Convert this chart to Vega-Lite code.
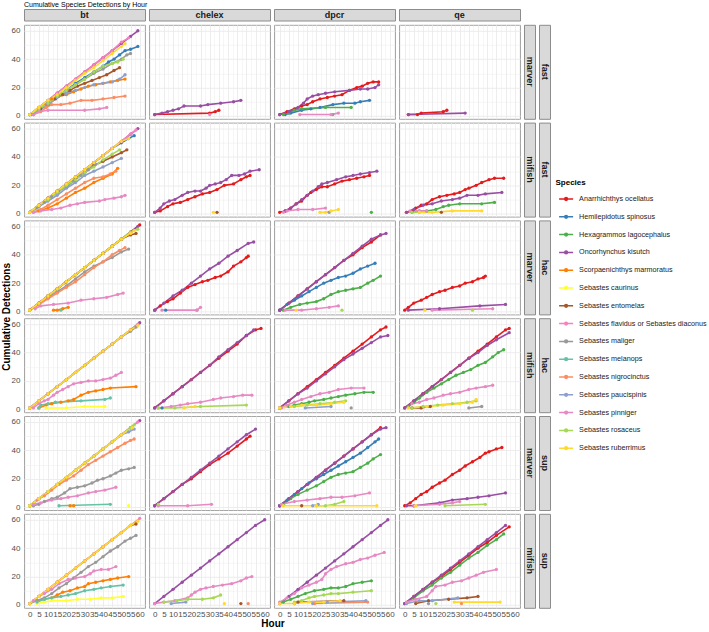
{
"$schema":"https://vega.github.io/schema/vega-lite/v6.json",
"padding":{"left":0,"top":0,"right":0,"bottom":0},
"title":{"text":"Cumulative Species Detections by Hour","anchor":"start","frame":"group","fontSize":7,"fontWeight":"normal","color":"#000000","offset":1},
"datasets":{
"sp":[{"k":1,"Species":"Anarrhichthys ocellatus"},{"k":2,"Species":"Hemilepidotus spinosus"},{"k":3,"Species":"Hexagrammos lagocephalus"},{"k":4,"Species":"Oncorhynchus kisutch"},{"k":5,"Species":"Scorpaenichthys marmoratus"},{"k":6,"Species":"Sebastes caurinus"},{"k":7,"Species":"Sebastes entomelas"},{"k":8,"Species":"Sebastes flavidus or Sebastes diaconus"},{"k":9,"Species":"Sebastes maliger"},{"k":10,"Species":"Sebastes melanops"},{"k":11,"Species":"Sebastes nigrocinctus"},{"k":12,"Species":"Sebastes paucispinis"},{"k":13,"Species":"Sebastes pinniger"},{"k":14,"Species":"Sebastes rosaceus"},{"k":15,"Species":"Sebastes ruberrimus"}],
"d":[
{"p":0,"k":2,"x":0,"y":1},{"p":0,"k":2,"x":5,"y":5},{"p":0,"k":2,"x":10,"y":9},{"p":0,"k":2,"x":15,"y":14},{"p":0,"k":2,"x":20,"y":18},{"p":0,"k":2,"x":25,"y":23},{"p":0,"k":2,"x":30,"y":27},{"p":0,"k":2,"x":35,"y":31},{"p":0,"k":2,"x":40,"y":35},{"p":0,"k":2,"x":43,"y":38},{"p":0,"k":2,"x":46,"y":40},{"p":0,"k":2,"x":49,"y":43},{"p":0,"k":2,"x":52,"y":46},{"p":0,"k":2,"x":55,"y":47},{"p":0,"k":2,"x":59,"y":49},
{"p":0,"k":4,"x":0,"y":1},{"p":0,"k":4,"x":5,"y":6},{"p":0,"k":4,"x":10,"y":11},{"p":0,"k":4,"x":15,"y":16},{"p":0,"k":4,"x":20,"y":21},{"p":0,"k":4,"x":25,"y":26},{"p":0,"k":4,"x":30,"y":31},{"p":0,"k":4,"x":35,"y":36},{"p":0,"k":4,"x":40,"y":41},{"p":0,"k":4,"x":45,"y":46},{"p":0,"k":4,"x":50,"y":51},{"p":0,"k":4,"x":55,"y":56},{"p":0,"k":4,"x":59,"y":60},
{"p":0,"k":5,"x":1,"y":1},{"p":0,"k":5,"x":5,"y":4},{"p":0,"k":5,"x":9,"y":8},{"p":0,"k":5,"x":12,"y":12},{"p":0,"k":5,"x":16,"y":14},{"p":0,"k":5,"x":20,"y":15},{"p":0,"k":5,"x":24,"y":17},{"p":0,"k":5,"x":28,"y":19},{"p":0,"k":5,"x":32,"y":21},{"p":0,"k":5,"x":36,"y":22},{"p":0,"k":5,"x":40,"y":23},{"p":0,"k":5,"x":44,"y":24},{"p":0,"k":5,"x":48,"y":25},{"p":0,"k":5,"x":52,"y":26},
{"p":0,"k":7,"x":2,"y":1},{"p":0,"k":7,"x":6,"y":5},{"p":0,"k":7,"x":10,"y":8},{"p":0,"k":7,"x":14,"y":12},{"p":0,"k":7,"x":18,"y":15},{"p":0,"k":7,"x":22,"y":18},{"p":0,"k":7,"x":26,"y":21},{"p":0,"k":7,"x":30,"y":23},{"p":0,"k":7,"x":34,"y":25},{"p":0,"k":7,"x":38,"y":27},{"p":0,"k":7,"x":42,"y":29},{"p":0,"k":7,"x":46,"y":32},{"p":0,"k":7,"x":49,"y":34},
{"p":0,"k":8,"x":0,"y":1},{"p":0,"k":8,"x":5,"y":6},{"p":0,"k":8,"x":10,"y":11},{"p":0,"k":8,"x":15,"y":16},{"p":0,"k":8,"x":20,"y":21},{"p":0,"k":8,"x":25,"y":26},{"p":0,"k":8,"x":30,"y":31},{"p":0,"k":8,"x":35,"y":36},{"p":0,"k":8,"x":40,"y":41},{"p":0,"k":8,"x":45,"y":46},{"p":0,"k":8,"x":50,"y":52},{"p":0,"k":8,"x":54,"y":55},
{"p":0,"k":9,"x":0,"y":1},{"p":0,"k":9,"x":5,"y":5},{"p":0,"k":9,"x":10,"y":9},{"p":0,"k":9,"x":15,"y":14},{"p":0,"k":9,"x":20,"y":18},{"p":0,"k":9,"x":25,"y":22},{"p":0,"k":9,"x":30,"y":26},{"p":0,"k":9,"x":35,"y":30},{"p":0,"k":9,"x":40,"y":33},{"p":0,"k":9,"x":45,"y":37},{"p":0,"k":9,"x":50,"y":40},{"p":0,"k":9,"x":53,"y":43},{"p":0,"k":9,"x":55,"y":44},
{"p":0,"k":11,"x":2,"y":1},{"p":0,"k":11,"x":6,"y":3},{"p":0,"k":11,"x":9,"y":6},{"p":0,"k":11,"x":12,"y":8},{"p":0,"k":11,"x":17,"y":8},{"p":0,"k":11,"x":22,"y":9},{"p":0,"k":11,"x":28,"y":11},{"p":0,"k":11,"x":34,"y":11},{"p":0,"k":11,"x":40,"y":12},{"p":0,"k":11,"x":46,"y":13},{"p":0,"k":11,"x":52,"y":14},
{"p":0,"k":12,"x":0,"y":1},{"p":0,"k":12,"x":5,"y":4},{"p":0,"k":12,"x":10,"y":8},{"p":0,"k":12,"x":15,"y":13},{"p":0,"k":12,"x":20,"y":16},{"p":0,"k":12,"x":25,"y":18},{"p":0,"k":12,"x":30,"y":20},{"p":0,"k":12,"x":35,"y":22},{"p":0,"k":12,"x":40,"y":23},{"p":0,"k":12,"x":45,"y":24},{"p":0,"k":12,"x":49,"y":26},{"p":0,"k":12,"x":52,"y":29},
{"p":0,"k":13,"x":2,"y":1},{"p":0,"k":13,"x":5,"y":3},{"p":0,"k":13,"x":10,"y":4},{"p":0,"k":13,"x":30,"y":4},{"p":0,"k":13,"x":38,"y":5},{"p":0,"k":13,"x":42,"y":6},
{"p":0,"k":14,"x":0,"y":1},{"p":0,"k":14,"x":5,"y":5},{"p":0,"k":14,"x":10,"y":9},{"p":0,"k":14,"x":15,"y":14},{"p":0,"k":14,"x":20,"y":18},{"p":0,"k":14,"x":25,"y":22},{"p":0,"k":14,"x":30,"y":26},{"p":0,"k":14,"x":35,"y":31},{"p":0,"k":14,"x":40,"y":35},{"p":0,"k":14,"x":45,"y":37},{"p":0,"k":14,"x":48,"y":38},{"p":0,"k":14,"x":51,"y":40},
{"p":0,"k":15,"x":0,"y":1},{"p":0,"k":15,"x":5,"y":6},{"p":0,"k":15,"x":10,"y":11},{"p":0,"k":15,"x":15,"y":15},{"p":0,"k":15,"x":20,"y":20},{"p":0,"k":15,"x":25,"y":25},{"p":0,"k":15,"x":30,"y":30},{"p":0,"k":15,"x":35,"y":34},{"p":0,"k":15,"x":40,"y":39},{"p":0,"k":15,"x":45,"y":44},{"p":0,"k":15,"x":50,"y":49},{"p":0,"k":15,"x":52,"y":51},
{"p":1,"k":1,"x":0,"y":1},{"p":1,"k":1,"x":30,"y":2},{"p":1,"k":1,"x":33,"y":3},{"p":1,"k":1,"x":35,"y":4},
{"p":1,"k":4,"x":0,"y":1},{"p":1,"k":4,"x":4,"y":2},{"p":1,"k":4,"x":7,"y":3},{"p":1,"k":4,"x":10,"y":4},{"p":1,"k":4,"x":13,"y":5},{"p":1,"k":4,"x":16,"y":7},{"p":1,"k":4,"x":25,"y":7},{"p":1,"k":4,"x":29,"y":8},{"p":1,"k":4,"x":36,"y":9},{"p":1,"k":4,"x":43,"y":10},{"p":1,"k":4,"x":47,"y":11},
{"p":1,"k":13,"x":30,"y":1},
{"p":2,"k":1,"x":0,"y":1},{"p":2,"k":1,"x":4,"y":3},{"p":2,"k":1,"x":8,"y":5},{"p":2,"k":1,"x":12,"y":7},{"p":2,"k":1,"x":15,"y":8},{"p":2,"k":1,"x":18,"y":10},{"p":2,"k":1,"x":22,"y":12},{"p":2,"k":1,"x":26,"y":13},{"p":2,"k":1,"x":30,"y":14},{"p":2,"k":1,"x":34,"y":15},{"p":2,"k":1,"x":38,"y":18},{"p":2,"k":1,"x":42,"y":20},{"p":2,"k":1,"x":45,"y":21},{"p":2,"k":1,"x":48,"y":23},{"p":2,"k":1,"x":51,"y":24},{"p":2,"k":1,"x":54,"y":24},
{"p":2,"k":2,"x":3,"y":1},{"p":2,"k":2,"x":6,"y":2},{"p":2,"k":2,"x":12,"y":4},{"p":2,"k":2,"x":17,"y":5},{"p":2,"k":2,"x":22,"y":6},{"p":2,"k":2,"x":29,"y":8},{"p":2,"k":2,"x":35,"y":9},{"p":2,"k":2,"x":41,"y":9},{"p":2,"k":2,"x":44,"y":10},{"p":2,"k":2,"x":49,"y":11},
{"p":2,"k":3,"x":2,"y":1},{"p":2,"k":3,"x":5,"y":2},{"p":2,"k":3,"x":8,"y":4},{"p":2,"k":3,"x":12,"y":5},{"p":2,"k":3,"x":25,"y":6},{"p":2,"k":3,"x":39,"y":6},
{"p":2,"k":4,"x":0,"y":1},{"p":2,"k":4,"x":5,"y":3},{"p":2,"k":4,"x":10,"y":6},{"p":2,"k":4,"x":13,"y":9},{"p":2,"k":4,"x":15,"y":12},{"p":2,"k":4,"x":18,"y":14},{"p":2,"k":4,"x":21,"y":15},{"p":2,"k":4,"x":25,"y":16},{"p":2,"k":4,"x":30,"y":17},{"p":2,"k":4,"x":38,"y":18},{"p":2,"k":4,"x":44,"y":19},{"p":2,"k":4,"x":48,"y":19},{"p":2,"k":4,"x":52,"y":20},{"p":2,"k":4,"x":54,"y":22},
{"p":2,"k":9,"x":29,"y":1},
{"p":2,"k":13,"x":11,"y":1},{"p":2,"k":13,"x":28,"y":1},{"p":2,"k":13,"x":32,"y":2},
{"p":3,"k":1,"x":2,"y":1},{"p":3,"k":1,"x":7,"y":1},{"p":3,"k":1,"x":9,"y":2},{"p":3,"k":1,"x":21,"y":3},{"p":3,"k":1,"x":23,"y":4},
{"p":3,"k":4,"x":2,"y":1},{"p":3,"k":4,"x":33,"y":2},
{"p":4,"k":2,"x":0,"y":1},{"p":4,"k":2,"x":5,"y":6},{"p":4,"k":2,"x":10,"y":11},{"p":4,"k":2,"x":15,"y":16},{"p":4,"k":2,"x":20,"y":21},{"p":4,"k":2,"x":25,"y":26},{"p":4,"k":2,"x":30,"y":31},{"p":4,"k":2,"x":35,"y":36},{"p":4,"k":2,"x":40,"y":41},{"p":4,"k":2,"x":45,"y":46},{"p":4,"k":2,"x":50,"y":50},{"p":4,"k":2,"x":54,"y":53},{"p":4,"k":2,"x":57,"y":55},
{"p":4,"k":4,"x":0,"y":1},{"p":4,"k":4,"x":5,"y":6},{"p":4,"k":4,"x":10,"y":11},{"p":4,"k":4,"x":15,"y":16},{"p":4,"k":4,"x":20,"y":21},{"p":4,"k":4,"x":25,"y":26},{"p":4,"k":4,"x":30,"y":31},{"p":4,"k":4,"x":35,"y":36},{"p":4,"k":4,"x":40,"y":41},{"p":4,"k":4,"x":45,"y":46},{"p":4,"k":4,"x":50,"y":51},{"p":4,"k":4,"x":55,"y":56},{"p":4,"k":4,"x":59,"y":60},
{"p":4,"k":5,"x":0,"y":1},{"p":4,"k":5,"x":5,"y":2},{"p":4,"k":5,"x":10,"y":4},{"p":4,"k":5,"x":15,"y":7},{"p":4,"k":5,"x":20,"y":11},{"p":4,"k":5,"x":25,"y":15},{"p":4,"k":5,"x":30,"y":18},{"p":4,"k":5,"x":35,"y":22},{"p":4,"k":5,"x":40,"y":25},{"p":4,"k":5,"x":45,"y":28},{"p":4,"k":5,"x":48,"y":32},
{"p":4,"k":7,"x":0,"y":1},{"p":4,"k":7,"x":5,"y":6},{"p":4,"k":7,"x":10,"y":11},{"p":4,"k":7,"x":15,"y":15},{"p":4,"k":7,"x":20,"y":20},{"p":4,"k":7,"x":25,"y":25},{"p":4,"k":7,"x":30,"y":29},{"p":4,"k":7,"x":35,"y":34},{"p":4,"k":7,"x":40,"y":37},{"p":4,"k":7,"x":45,"y":40},{"p":4,"k":7,"x":50,"y":43},{"p":4,"k":7,"x":53,"y":45},
{"p":4,"k":8,"x":0,"y":1},{"p":4,"k":8,"x":5,"y":6},{"p":4,"k":8,"x":10,"y":11},{"p":4,"k":8,"x":15,"y":16},{"p":4,"k":8,"x":20,"y":21},{"p":4,"k":8,"x":25,"y":26},{"p":4,"k":8,"x":30,"y":31},{"p":4,"k":8,"x":35,"y":36},{"p":4,"k":8,"x":40,"y":41},{"p":4,"k":8,"x":45,"y":46},{"p":4,"k":8,"x":50,"y":51},{"p":4,"k":8,"x":55,"y":56},{"p":4,"k":8,"x":58,"y":59},
{"p":4,"k":9,"x":0,"y":1},{"p":4,"k":9,"x":4,"y":4},{"p":4,"k":9,"x":8,"y":8},{"p":4,"k":9,"x":12,"y":12},{"p":4,"k":9,"x":16,"y":16},{"p":4,"k":9,"x":20,"y":19},{"p":4,"k":9,"x":24,"y":23},{"p":4,"k":9,"x":28,"y":27},{"p":4,"k":9,"x":32,"y":31},{"p":4,"k":9,"x":36,"y":35},
{"p":4,"k":11,"x":2,"y":1},{"p":4,"k":11,"x":6,"y":3},{"p":4,"k":11,"x":10,"y":6},{"p":4,"k":11,"x":15,"y":10},{"p":4,"k":11,"x":20,"y":14},{"p":4,"k":11,"x":25,"y":18},{"p":4,"k":11,"x":30,"y":22},{"p":4,"k":11,"x":35,"y":25},{"p":4,"k":11,"x":40,"y":26},{"p":4,"k":11,"x":44,"y":28},{"p":4,"k":11,"x":47,"y":30},
{"p":4,"k":12,"x":0,"y":1},{"p":4,"k":12,"x":5,"y":5},{"p":4,"k":12,"x":10,"y":9},{"p":4,"k":12,"x":15,"y":13},{"p":4,"k":12,"x":20,"y":18},{"p":4,"k":12,"x":25,"y":22},{"p":4,"k":12,"x":30,"y":27},{"p":4,"k":12,"x":35,"y":30},{"p":4,"k":12,"x":40,"y":33},{"p":4,"k":12,"x":45,"y":36},{"p":4,"k":12,"x":50,"y":39},
{"p":4,"k":13,"x":2,"y":1},{"p":4,"k":13,"x":6,"y":2},{"p":4,"k":13,"x":12,"y":3},{"p":4,"k":13,"x":17,"y":4},{"p":4,"k":13,"x":22,"y":6},{"p":4,"k":13,"x":26,"y":7},{"p":4,"k":13,"x":30,"y":8},{"p":4,"k":13,"x":38,"y":9},{"p":4,"k":13,"x":41,"y":10},{"p":4,"k":13,"x":46,"y":11},{"p":4,"k":13,"x":50,"y":12},{"p":4,"k":13,"x":52,"y":13},
{"p":4,"k":14,"x":0,"y":1},{"p":4,"k":14,"x":5,"y":6},{"p":4,"k":14,"x":10,"y":10},{"p":4,"k":14,"x":15,"y":15},{"p":4,"k":14,"x":20,"y":20},{"p":4,"k":14,"x":25,"y":24},{"p":4,"k":14,"x":30,"y":29},{"p":4,"k":14,"x":35,"y":33},{"p":4,"k":14,"x":40,"y":38},{"p":4,"k":14,"x":45,"y":42},{"p":4,"k":14,"x":49,"y":45},
{"p":4,"k":15,"x":0,"y":1},{"p":4,"k":15,"x":5,"y":6},{"p":4,"k":15,"x":10,"y":11},{"p":4,"k":15,"x":15,"y":16},{"p":4,"k":15,"x":20,"y":21},{"p":4,"k":15,"x":25,"y":26},{"p":4,"k":15,"x":30,"y":31},{"p":4,"k":15,"x":35,"y":36},{"p":4,"k":15,"x":40,"y":41},{"p":4,"k":15,"x":45,"y":46},{"p":4,"k":15,"x":50,"y":51},{"p":4,"k":15,"x":54,"y":53},
{"p":5,"k":1,"x":0,"y":1},{"p":5,"k":1,"x":3,"y":2},{"p":5,"k":1,"x":7,"y":5},{"p":5,"k":1,"x":10,"y":7},{"p":5,"k":1,"x":14,"y":8},{"p":5,"k":1,"x":18,"y":10},{"p":5,"k":1,"x":22,"y":12},{"p":5,"k":1,"x":26,"y":14},{"p":5,"k":1,"x":30,"y":15},{"p":5,"k":1,"x":34,"y":17},{"p":5,"k":1,"x":38,"y":20},{"p":5,"k":1,"x":43,"y":21},{"p":5,"k":1,"x":47,"y":24},{"p":5,"k":1,"x":50,"y":26},{"p":5,"k":1,"x":52,"y":27},
{"p":5,"k":4,"x":0,"y":1},{"p":5,"k":4,"x":3,"y":4},{"p":5,"k":4,"x":5,"y":7},{"p":5,"k":4,"x":8,"y":9},{"p":5,"k":4,"x":11,"y":10},{"p":5,"k":4,"x":15,"y":13},{"p":5,"k":4,"x":18,"y":15},{"p":5,"k":4,"x":22,"y":16},{"p":5,"k":4,"x":25,"y":16},{"p":5,"k":4,"x":28,"y":18},{"p":5,"k":4,"x":30,"y":20},{"p":5,"k":4,"x":33,"y":21},{"p":5,"k":4,"x":36,"y":22},{"p":5,"k":4,"x":39,"y":24},{"p":5,"k":4,"x":42,"y":27},{"p":5,"k":4,"x":46,"y":27},{"p":5,"k":4,"x":49,"y":28},{"p":5,"k":4,"x":52,"y":30},{"p":5,"k":4,"x":57,"y":31},
{"p":5,"k":7,"x":34,"y":1},
{"p":5,"k":15,"x":32,"y":1},
{"p":6,"k":1,"x":0,"y":1},{"p":6,"k":1,"x":3,"y":2},{"p":6,"k":1,"x":6,"y":4},{"p":6,"k":1,"x":9,"y":7},{"p":6,"k":1,"x":12,"y":9},{"p":6,"k":1,"x":15,"y":13},{"p":6,"k":1,"x":17,"y":15},{"p":6,"k":1,"x":20,"y":17},{"p":6,"k":1,"x":23,"y":19},{"p":6,"k":1,"x":26,"y":19},{"p":6,"k":1,"x":30,"y":21},{"p":6,"k":1,"x":34,"y":23},{"p":6,"k":1,"x":38,"y":24},{"p":6,"k":1,"x":42,"y":25},{"p":6,"k":1,"x":46,"y":26},{"p":6,"k":1,"x":49,"y":27},
{"p":6,"k":3,"x":50,"y":1},
{"p":6,"k":4,"x":3,"y":2},{"p":6,"k":4,"x":6,"y":4},{"p":6,"k":4,"x":9,"y":7},{"p":6,"k":4,"x":12,"y":10},{"p":6,"k":4,"x":15,"y":13},{"p":6,"k":4,"x":18,"y":16},{"p":6,"k":4,"x":21,"y":19},{"p":6,"k":4,"x":23,"y":21},{"p":6,"k":4,"x":26,"y":22},{"p":6,"k":4,"x":31,"y":24},{"p":6,"k":4,"x":36,"y":26},{"p":6,"k":4,"x":40,"y":27},{"p":6,"k":4,"x":44,"y":28},{"p":6,"k":4,"x":49,"y":29},{"p":6,"k":4,"x":53,"y":30},
{"p":6,"k":9,"x":27,"y":1},
{"p":6,"k":13,"x":2,"y":1},{"p":6,"k":13,"x":4,"y":2},{"p":6,"k":13,"x":10,"y":3},{"p":6,"k":13,"x":18,"y":3},{"p":6,"k":13,"x":25,"y":4},
{"p":6,"k":15,"x":22,"y":1},{"p":6,"k":15,"x":25,"y":1},{"p":6,"k":15,"x":28,"y":2},{"p":6,"k":15,"x":32,"y":3},
{"p":7,"k":1,"x":1,"y":1},{"p":7,"k":1,"x":4,"y":2},{"p":7,"k":1,"x":6,"y":4},{"p":7,"k":1,"x":9,"y":6},{"p":7,"k":1,"x":12,"y":7},{"p":7,"k":1,"x":15,"y":10},{"p":7,"k":1,"x":19,"y":12},{"p":7,"k":1,"x":23,"y":13},{"p":7,"k":1,"x":27,"y":14},{"p":7,"k":1,"x":30,"y":15},{"p":7,"k":1,"x":33,"y":17},{"p":7,"k":1,"x":35,"y":18},{"p":7,"k":1,"x":39,"y":20},{"p":7,"k":1,"x":42,"y":22},{"p":7,"k":1,"x":46,"y":24},{"p":7,"k":1,"x":49,"y":25},{"p":7,"k":1,"x":54,"y":25},
{"p":7,"k":3,"x":4,"y":1},{"p":7,"k":3,"x":8,"y":2},{"p":7,"k":3,"x":12,"y":2},{"p":7,"k":3,"x":17,"y":3},{"p":7,"k":3,"x":21,"y":5},{"p":7,"k":3,"x":24,"y":6},{"p":7,"k":3,"x":30,"y":7},{"p":7,"k":3,"x":42,"y":7},{"p":7,"k":3,"x":49,"y":8},
{"p":7,"k":4,"x":1,"y":1},{"p":7,"k":4,"x":5,"y":3},{"p":7,"k":4,"x":10,"y":6},{"p":7,"k":4,"x":15,"y":7},{"p":7,"k":4,"x":20,"y":9},{"p":7,"k":4,"x":26,"y":10},{"p":7,"k":4,"x":30,"y":11},{"p":7,"k":4,"x":34,"y":13},{"p":7,"k":4,"x":40,"y":13},{"p":7,"k":4,"x":44,"y":14},{"p":7,"k":4,"x":53,"y":15},
{"p":7,"k":7,"x":20,"y":1},
{"p":7,"k":13,"x":3,"y":2},{"p":7,"k":13,"x":8,"y":2},{"p":7,"k":13,"x":12,"y":2},
{"p":7,"k":14,"x":4,"y":1},{"p":7,"k":14,"x":8,"y":1},
{"p":7,"k":15,"x":8,"y":1},{"p":7,"k":15,"x":15,"y":1},{"p":7,"k":15,"x":26,"y":2},{"p":7,"k":15,"x":42,"y":2},
{"p":8,"k":1,"x":0,"y":1},{"p":8,"k":1,"x":5,"y":6},{"p":8,"k":1,"x":10,"y":11},{"p":8,"k":1,"x":15,"y":16},{"p":8,"k":1,"x":20,"y":21},{"p":8,"k":1,"x":25,"y":26},{"p":8,"k":1,"x":30,"y":31},{"p":8,"k":1,"x":35,"y":36},{"p":8,"k":1,"x":40,"y":41},{"p":8,"k":1,"x":45,"y":46},{"p":8,"k":1,"x":50,"y":51},{"p":8,"k":1,"x":55,"y":56},{"p":8,"k":1,"x":60,"y":61},
{"p":8,"k":4,"x":0,"y":1},{"p":8,"k":4,"x":5,"y":6},{"p":8,"k":4,"x":10,"y":11},{"p":8,"k":4,"x":15,"y":16},{"p":8,"k":4,"x":20,"y":21},{"p":8,"k":4,"x":25,"y":26},{"p":8,"k":4,"x":30,"y":31},{"p":8,"k":4,"x":35,"y":36},{"p":8,"k":4,"x":40,"y":41},{"p":8,"k":4,"x":45,"y":46},{"p":8,"k":4,"x":50,"y":51},{"p":8,"k":4,"x":55,"y":56},{"p":8,"k":4,"x":59,"y":60},
{"p":8,"k":5,"x":13,"y":1},{"p":8,"k":5,"x":15,"y":1},{"p":8,"k":5,"x":18,"y":2},{"p":8,"k":5,"x":21,"y":3},
{"p":8,"k":7,"x":0,"y":1},{"p":8,"k":7,"x":5,"y":6},{"p":8,"k":7,"x":10,"y":11},{"p":8,"k":7,"x":15,"y":16},{"p":8,"k":7,"x":20,"y":21},{"p":8,"k":7,"x":25,"y":26},{"p":8,"k":7,"x":30,"y":31},{"p":8,"k":7,"x":35,"y":36},{"p":8,"k":7,"x":40,"y":41},{"p":8,"k":7,"x":45,"y":46},{"p":8,"k":7,"x":50,"y":51},{"p":8,"k":7,"x":55,"y":54},{"p":8,"k":7,"x":58,"y":55},
{"p":8,"k":9,"x":0,"y":1},{"p":8,"k":9,"x":5,"y":5},{"p":8,"k":9,"x":10,"y":10},{"p":8,"k":9,"x":15,"y":14},{"p":8,"k":9,"x":20,"y":18},{"p":8,"k":9,"x":25,"y":23},{"p":8,"k":9,"x":30,"y":28},{"p":8,"k":9,"x":35,"y":32},{"p":8,"k":9,"x":40,"y":35},{"p":8,"k":9,"x":45,"y":38},{"p":8,"k":9,"x":50,"y":42},{"p":8,"k":9,"x":54,"y":44},
{"p":8,"k":10,"x":17,"y":1},
{"p":8,"k":11,"x":0,"y":1},{"p":8,"k":11,"x":5,"y":5},{"p":8,"k":11,"x":10,"y":9},{"p":8,"k":11,"x":15,"y":13},{"p":8,"k":11,"x":20,"y":17},{"p":8,"k":11,"x":25,"y":21},{"p":8,"k":11,"x":30,"y":26},{"p":8,"k":11,"x":35,"y":31},{"p":8,"k":11,"x":40,"y":35},{"p":8,"k":11,"x":45,"y":40},{"p":8,"k":11,"x":49,"y":43},{"p":8,"k":11,"x":52,"y":45},
{"p":8,"k":13,"x":3,"y":2},{"p":8,"k":13,"x":6,"y":4},{"p":8,"k":13,"x":13,"y":5},{"p":8,"k":13,"x":21,"y":6},{"p":8,"k":13,"x":28,"y":8},{"p":8,"k":13,"x":35,"y":9},{"p":8,"k":13,"x":42,"y":10},{"p":8,"k":13,"x":48,"y":12},{"p":8,"k":13,"x":51,"y":13},
{"p":8,"k":14,"x":0,"y":1},{"p":8,"k":14,"x":5,"y":6},{"p":8,"k":14,"x":10,"y":11},{"p":8,"k":14,"x":15,"y":16},{"p":8,"k":14,"x":20,"y":21},{"p":8,"k":14,"x":25,"y":26},{"p":8,"k":14,"x":30,"y":31},{"p":8,"k":14,"x":35,"y":36},{"p":8,"k":14,"x":40,"y":41},{"p":8,"k":14,"x":45,"y":46},{"p":8,"k":14,"x":50,"y":51},{"p":8,"k":14,"x":55,"y":56},{"p":8,"k":14,"x":59,"y":58},
{"p":8,"k":15,"x":0,"y":1},{"p":8,"k":15,"x":5,"y":6},{"p":8,"k":15,"x":10,"y":11},{"p":8,"k":15,"x":15,"y":16},{"p":8,"k":15,"x":20,"y":21},{"p":8,"k":15,"x":25,"y":26},{"p":8,"k":15,"x":30,"y":31},{"p":8,"k":15,"x":35,"y":36},{"p":8,"k":15,"x":40,"y":41},{"p":8,"k":15,"x":45,"y":46},{"p":8,"k":15,"x":50,"y":51},{"p":8,"k":15,"x":55,"y":55},{"p":8,"k":15,"x":57,"y":57},
{"p":9,"k":1,"x":0,"y":1},{"p":9,"k":1,"x":3,"y":4},{"p":9,"k":1,"x":7,"y":7},{"p":9,"k":1,"x":10,"y":9},{"p":9,"k":1,"x":14,"y":13},{"p":9,"k":1,"x":18,"y":17},{"p":9,"k":1,"x":22,"y":19},{"p":9,"k":1,"x":26,"y":21},{"p":9,"k":1,"x":29,"y":22},{"p":9,"k":1,"x":33,"y":24},{"p":9,"k":1,"x":36,"y":25},{"p":9,"k":1,"x":40,"y":28},{"p":9,"k":1,"x":43,"y":32},{"p":9,"k":1,"x":47,"y":35},{"p":9,"k":1,"x":50,"y":38},{"p":9,"k":1,"x":51,"y":39},
{"p":9,"k":2,"x":6,"y":1},
{"p":9,"k":4,"x":0,"y":1},{"p":9,"k":4,"x":5,"y":6},{"p":9,"k":4,"x":10,"y":11},{"p":9,"k":4,"x":15,"y":15},{"p":9,"k":4,"x":20,"y":20},{"p":9,"k":4,"x":25,"y":25},{"p":9,"k":4,"x":30,"y":30},{"p":9,"k":4,"x":35,"y":34},{"p":9,"k":4,"x":40,"y":39},{"p":9,"k":4,"x":45,"y":43},{"p":9,"k":4,"x":51,"y":48},{"p":9,"k":4,"x":54,"y":49},
{"p":9,"k":9,"x":23,"y":1},
{"p":9,"k":13,"x":4,"y":1},{"p":9,"k":13,"x":23,"y":1},{"p":9,"k":13,"x":25,"y":3},
{"p":10,"k":1,"x":0,"y":1},{"p":10,"k":1,"x":5,"y":6},{"p":10,"k":1,"x":10,"y":11},{"p":10,"k":1,"x":15,"y":16},{"p":10,"k":1,"x":20,"y":21},{"p":10,"k":1,"x":25,"y":26},{"p":10,"k":1,"x":30,"y":31},{"p":10,"k":1,"x":35,"y":36},{"p":10,"k":1,"x":40,"y":40},{"p":10,"k":1,"x":45,"y":45},{"p":10,"k":1,"x":50,"y":49},{"p":10,"k":1,"x":55,"y":54},
{"p":10,"k":2,"x":0,"y":1},{"p":10,"k":2,"x":4,"y":5},{"p":10,"k":2,"x":8,"y":8},{"p":10,"k":2,"x":12,"y":11},{"p":10,"k":2,"x":16,"y":14},{"p":10,"k":2,"x":20,"y":17},{"p":10,"k":2,"x":24,"y":20},{"p":10,"k":2,"x":28,"y":22},{"p":10,"k":2,"x":32,"y":24},{"p":10,"k":2,"x":36,"y":25},{"p":10,"k":2,"x":40,"y":27},{"p":10,"k":2,"x":44,"y":30},{"p":10,"k":2,"x":48,"y":32},{"p":10,"k":2,"x":52,"y":34},
{"p":10,"k":3,"x":2,"y":1},{"p":10,"k":3,"x":6,"y":3},{"p":10,"k":3,"x":11,"y":5},{"p":10,"k":3,"x":15,"y":6},{"p":10,"k":3,"x":20,"y":7},{"p":10,"k":3,"x":24,"y":9},{"p":10,"k":3,"x":28,"y":12},{"p":10,"k":3,"x":32,"y":14},{"p":10,"k":3,"x":36,"y":15},{"p":10,"k":3,"x":40,"y":16},{"p":10,"k":3,"x":44,"y":17},{"p":10,"k":3,"x":48,"y":20},{"p":10,"k":3,"x":51,"y":22},{"p":10,"k":3,"x":55,"y":25},
{"p":10,"k":4,"x":0,"y":1},{"p":10,"k":4,"x":5,"y":6},{"p":10,"k":4,"x":10,"y":11},{"p":10,"k":4,"x":15,"y":16},{"p":10,"k":4,"x":20,"y":21},{"p":10,"k":4,"x":25,"y":26},{"p":10,"k":4,"x":30,"y":31},{"p":10,"k":4,"x":35,"y":36},{"p":10,"k":4,"x":40,"y":41},{"p":10,"k":4,"x":45,"y":46},{"p":10,"k":4,"x":50,"y":51},{"p":10,"k":4,"x":55,"y":54},{"p":10,"k":4,"x":58,"y":55},
{"p":10,"k":13,"x":3,"y":1},{"p":10,"k":13,"x":12,"y":1},{"p":10,"k":13,"x":20,"y":2},{"p":10,"k":13,"x":27,"y":3},{"p":10,"k":13,"x":32,"y":4},
{"p":10,"k":14,"x":34,"y":1},
{"p":10,"k":15,"x":9,"y":1},
{"p":11,"k":1,"x":0,"y":1},{"p":11,"k":1,"x":2,"y":3},{"p":11,"k":1,"x":5,"y":6},{"p":11,"k":1,"x":9,"y":8},{"p":11,"k":1,"x":12,"y":10},{"p":11,"k":1,"x":15,"y":12},{"p":11,"k":1,"x":19,"y":14},{"p":11,"k":1,"x":22,"y":15},{"p":11,"k":1,"x":26,"y":17},{"p":11,"k":1,"x":30,"y":18},{"p":11,"k":1,"x":33,"y":20},{"p":11,"k":1,"x":37,"y":21},{"p":11,"k":1,"x":40,"y":23},{"p":11,"k":1,"x":43,"y":24},{"p":11,"k":1,"x":44,"y":25},
{"p":11,"k":4,"x":2,"y":1},{"p":11,"k":4,"x":19,"y":2},{"p":11,"k":4,"x":41,"y":4},{"p":11,"k":4,"x":55,"y":5},
{"p":11,"k":13,"x":15,"y":1},{"p":11,"k":13,"x":48,"y":2},
{"p":11,"k":14,"x":37,"y":1},
{"p":11,"k":15,"x":11,"y":1},
{"p":12,"k":4,"x":0,"y":1},{"p":12,"k":4,"x":5,"y":6},{"p":12,"k":4,"x":10,"y":11},{"p":12,"k":4,"x":15,"y":16},{"p":12,"k":4,"x":20,"y":21},{"p":12,"k":4,"x":25,"y":26},{"p":12,"k":4,"x":30,"y":31},{"p":12,"k":4,"x":35,"y":36},{"p":12,"k":4,"x":40,"y":41},{"p":12,"k":4,"x":45,"y":46},{"p":12,"k":4,"x":50,"y":51},{"p":12,"k":4,"x":55,"y":56},{"p":12,"k":4,"x":60,"y":61},
{"p":12,"k":5,"x":5,"y":1},{"p":12,"k":5,"x":9,"y":3},{"p":12,"k":5,"x":12,"y":4},{"p":12,"k":5,"x":17,"y":5},{"p":12,"k":5,"x":21,"y":6},{"p":12,"k":5,"x":24,"y":7},{"p":12,"k":5,"x":28,"y":10},{"p":12,"k":5,"x":32,"y":12},{"p":12,"k":5,"x":36,"y":13},{"p":12,"k":5,"x":40,"y":14},{"p":12,"k":5,"x":44,"y":15},{"p":12,"k":5,"x":58,"y":16},
{"p":12,"k":6,"x":9,"y":1},{"p":12,"k":6,"x":20,"y":1},{"p":12,"k":6,"x":30,"y":2},{"p":12,"k":6,"x":41,"y":2},
{"p":12,"k":8,"x":0,"y":1},{"p":12,"k":8,"x":5,"y":6},{"p":12,"k":8,"x":10,"y":11},{"p":12,"k":8,"x":15,"y":16},{"p":12,"k":8,"x":20,"y":21},{"p":12,"k":8,"x":25,"y":26},{"p":12,"k":8,"x":30,"y":31},{"p":12,"k":8,"x":35,"y":36},{"p":12,"k":8,"x":40,"y":41},{"p":12,"k":8,"x":45,"y":46},{"p":12,"k":8,"x":50,"y":51},{"p":12,"k":8,"x":55,"y":56},{"p":12,"k":8,"x":59,"y":60},
{"p":12,"k":9,"x":0,"y":1},{"p":12,"k":9,"x":5,"y":6},{"p":12,"k":9,"x":10,"y":11},{"p":12,"k":9,"x":15,"y":16},{"p":12,"k":9,"x":20,"y":21},{"p":12,"k":9,"x":25,"y":26},{"p":12,"k":9,"x":30,"y":31},{"p":12,"k":9,"x":35,"y":36},{"p":12,"k":9,"x":40,"y":41},{"p":12,"k":9,"x":45,"y":46},{"p":12,"k":9,"x":50,"y":51},{"p":12,"k":9,"x":55,"y":55},{"p":12,"k":9,"x":58,"y":58},
{"p":12,"k":10,"x":5,"y":1},{"p":12,"k":10,"x":6,"y":3},{"p":12,"k":10,"x":10,"y":4},{"p":12,"k":10,"x":14,"y":5},{"p":12,"k":10,"x":28,"y":6},{"p":12,"k":10,"x":41,"y":7},{"p":12,"k":10,"x":44,"y":8},
{"p":12,"k":13,"x":2,"y":1},{"p":12,"k":13,"x":5,"y":4},{"p":12,"k":13,"x":8,"y":6},{"p":12,"k":13,"x":10,"y":7},{"p":12,"k":13,"x":13,"y":10},{"p":12,"k":13,"x":15,"y":12},{"p":12,"k":13,"x":18,"y":14},{"p":12,"k":13,"x":21,"y":16},{"p":12,"k":13,"x":24,"y":18},{"p":12,"k":13,"x":28,"y":19},{"p":12,"k":13,"x":32,"y":20},{"p":12,"k":13,"x":36,"y":20},{"p":12,"k":13,"x":40,"y":21},{"p":12,"k":13,"x":44,"y":22},{"p":12,"k":13,"x":47,"y":24},{"p":12,"k":13,"x":50,"y":26},
{"p":12,"k":15,"x":0,"y":1},{"p":12,"k":15,"x":5,"y":6},{"p":12,"k":15,"x":10,"y":11},{"p":12,"k":15,"x":15,"y":16},{"p":12,"k":15,"x":20,"y":21},{"p":12,"k":15,"x":25,"y":26},{"p":12,"k":15,"x":30,"y":31},{"p":12,"k":15,"x":35,"y":36},{"p":12,"k":15,"x":40,"y":41},{"p":12,"k":15,"x":45,"y":46},{"p":12,"k":15,"x":50,"y":51},{"p":12,"k":15,"x":55,"y":56},{"p":12,"k":15,"x":59,"y":59},
{"p":13,"k":1,"x":0,"y":1},{"p":13,"k":1,"x":5,"y":6},{"p":13,"k":1,"x":10,"y":11},{"p":13,"k":1,"x":15,"y":16},{"p":13,"k":1,"x":20,"y":21},{"p":13,"k":1,"x":25,"y":26},{"p":13,"k":1,"x":30,"y":31},{"p":13,"k":1,"x":35,"y":36},{"p":13,"k":1,"x":40,"y":41},{"p":13,"k":1,"x":45,"y":46},{"p":13,"k":1,"x":50,"y":52},{"p":13,"k":1,"x":55,"y":56},{"p":13,"k":1,"x":58,"y":57},
{"p":13,"k":2,"x":4,"y":1},
{"p":13,"k":4,"x":0,"y":1},{"p":13,"k":4,"x":5,"y":6},{"p":13,"k":4,"x":10,"y":11},{"p":13,"k":4,"x":15,"y":16},{"p":13,"k":4,"x":20,"y":21},{"p":13,"k":4,"x":25,"y":26},{"p":13,"k":4,"x":30,"y":31},{"p":13,"k":4,"x":35,"y":37},{"p":13,"k":4,"x":40,"y":42},{"p":13,"k":4,"x":45,"y":47},{"p":13,"k":4,"x":50,"y":52},{"p":13,"k":4,"x":54,"y":56},
{"p":13,"k":13,"x":2,"y":1},{"p":13,"k":13,"x":9,"y":2},{"p":13,"k":13,"x":14,"y":3},{"p":13,"k":13,"x":18,"y":4},{"p":13,"k":13,"x":25,"y":5},{"p":13,"k":13,"x":32,"y":7},{"p":13,"k":13,"x":36,"y":8},{"p":13,"k":13,"x":43,"y":9},{"p":13,"k":13,"x":48,"y":10},{"p":13,"k":13,"x":53,"y":10},
{"p":13,"k":14,"x":2,"y":1},{"p":13,"k":14,"x":11,"y":1},{"p":13,"k":14,"x":25,"y":2},{"p":13,"k":14,"x":50,"y":3},
{"p":13,"k":15,"x":16,"y":1},{"p":13,"k":15,"x":22,"y":2},
{"p":14,"k":1,"x":0,"y":1},{"p":14,"k":1,"x":5,"y":6},{"p":14,"k":1,"x":10,"y":11},{"p":14,"k":1,"x":15,"y":16},{"p":14,"k":1,"x":20,"y":21},{"p":14,"k":1,"x":25,"y":26},{"p":14,"k":1,"x":30,"y":31},{"p":14,"k":1,"x":35,"y":36},{"p":14,"k":1,"x":40,"y":41},{"p":14,"k":1,"x":45,"y":46},{"p":14,"k":1,"x":50,"y":51},{"p":14,"k":1,"x":55,"y":56},{"p":14,"k":1,"x":58,"y":58},
{"p":14,"k":3,"x":5,"y":2},{"p":14,"k":3,"x":8,"y":3},{"p":14,"k":3,"x":12,"y":4},{"p":14,"k":3,"x":16,"y":5},{"p":14,"k":3,"x":19,"y":6},{"p":14,"k":3,"x":24,"y":7},{"p":14,"k":3,"x":28,"y":8},{"p":14,"k":3,"x":32,"y":9},{"p":14,"k":3,"x":36,"y":10},{"p":14,"k":3,"x":41,"y":11},{"p":14,"k":3,"x":46,"y":12},{"p":14,"k":3,"x":51,"y":12},
{"p":14,"k":4,"x":0,"y":1},{"p":14,"k":4,"x":5,"y":6},{"p":14,"k":4,"x":10,"y":11},{"p":14,"k":4,"x":15,"y":15},{"p":14,"k":4,"x":20,"y":20},{"p":14,"k":4,"x":25,"y":25},{"p":14,"k":4,"x":30,"y":30},{"p":14,"k":4,"x":35,"y":35},{"p":14,"k":4,"x":40,"y":39},{"p":14,"k":4,"x":45,"y":43},{"p":14,"k":4,"x":50,"y":47},{"p":14,"k":4,"x":55,"y":51},{"p":14,"k":4,"x":59,"y":52},
{"p":14,"k":9,"x":39,"y":1},
{"p":14,"k":12,"x":14,"y":1},{"p":14,"k":12,"x":28,"y":2},
{"p":14,"k":13,"x":1,"y":1},{"p":14,"k":13,"x":4,"y":3},{"p":14,"k":13,"x":8,"y":5},{"p":14,"k":13,"x":12,"y":7},{"p":14,"k":13,"x":17,"y":9},{"p":14,"k":13,"x":22,"y":11},{"p":14,"k":13,"x":27,"y":12},{"p":14,"k":13,"x":32,"y":14},{"p":14,"k":13,"x":39,"y":15},{"p":14,"k":13,"x":46,"y":15},
{"p":14,"k":14,"x":0,"y":1},{"p":14,"k":14,"x":8,"y":2},{"p":14,"k":14,"x":15,"y":3},{"p":14,"k":14,"x":22,"y":4},{"p":14,"k":14,"x":30,"y":5},{"p":14,"k":14,"x":36,"y":6},
{"p":14,"k":15,"x":0,"y":1},{"p":14,"k":15,"x":6,"y":2},{"p":14,"k":15,"x":12,"y":3},{"p":14,"k":15,"x":20,"y":3},{"p":14,"k":15,"x":28,"y":4},{"p":14,"k":15,"x":35,"y":5},
{"p":15,"k":1,"x":0,"y":1},{"p":15,"k":1,"x":5,"y":6},{"p":15,"k":1,"x":10,"y":11},{"p":15,"k":1,"x":15,"y":16},{"p":15,"k":1,"x":20,"y":21},{"p":15,"k":1,"x":25,"y":26},{"p":15,"k":1,"x":30,"y":31},{"p":15,"k":1,"x":35,"y":36},{"p":15,"k":1,"x":40,"y":41},{"p":15,"k":1,"x":45,"y":46},{"p":15,"k":1,"x":50,"y":51},{"p":15,"k":1,"x":55,"y":56},{"p":15,"k":1,"x":57,"y":57},
{"p":15,"k":3,"x":2,"y":2},{"p":15,"k":3,"x":5,"y":5},{"p":15,"k":3,"x":8,"y":8},{"p":15,"k":3,"x":12,"y":12},{"p":15,"k":3,"x":16,"y":15},{"p":15,"k":3,"x":20,"y":18},{"p":15,"k":3,"x":24,"y":21},{"p":15,"k":3,"x":28,"y":24},{"p":15,"k":3,"x":32,"y":26},{"p":15,"k":3,"x":36,"y":28},{"p":15,"k":3,"x":40,"y":31},{"p":15,"k":3,"x":44,"y":33},{"p":15,"k":3,"x":48,"y":37},{"p":15,"k":3,"x":51,"y":40},{"p":15,"k":3,"x":54,"y":42},
{"p":15,"k":4,"x":0,"y":1},{"p":15,"k":4,"x":5,"y":6},{"p":15,"k":4,"x":10,"y":11},{"p":15,"k":4,"x":15,"y":16},{"p":15,"k":4,"x":20,"y":21},{"p":15,"k":4,"x":25,"y":26},{"p":15,"k":4,"x":30,"y":31},{"p":15,"k":4,"x":35,"y":36},{"p":15,"k":4,"x":40,"y":40},{"p":15,"k":4,"x":45,"y":45},{"p":15,"k":4,"x":50,"y":49},{"p":15,"k":4,"x":57,"y":54},
{"p":15,"k":7,"x":4,"y":1},{"p":15,"k":7,"x":9,"y":1},{"p":15,"k":7,"x":14,"y":2},
{"p":15,"k":9,"x":35,"y":1},{"p":15,"k":9,"x":42,"y":2},
{"p":15,"k":13,"x":4,"y":4},{"p":15,"k":13,"x":8,"y":5},{"p":15,"k":13,"x":12,"y":7},{"p":15,"k":13,"x":16,"y":8},{"p":15,"k":13,"x":21,"y":10},{"p":15,"k":13,"x":25,"y":11},{"p":15,"k":13,"x":30,"y":12},{"p":15,"k":13,"x":35,"y":14},{"p":15,"k":13,"x":39,"y":15},{"p":15,"k":13,"x":44,"y":16},{"p":15,"k":13,"x":48,"y":17},
{"p":15,"k":14,"x":4,"y":1},{"p":15,"k":14,"x":10,"y":2},{"p":15,"k":14,"x":18,"y":3},{"p":15,"k":14,"x":26,"y":4},{"p":15,"k":14,"x":34,"y":5},{"p":15,"k":14,"x":39,"y":6},
{"p":15,"k":15,"x":2,"y":1},{"p":15,"k":15,"x":12,"y":2},{"p":15,"k":15,"x":21,"y":3},{"p":15,"k":15,"x":30,"y":4},{"p":15,"k":15,"x":37,"y":5},{"p":15,"k":15,"x":39,"y":7},
{"p":16,"k":4,"x":0,"y":1},{"p":16,"k":4,"x":5,"y":6},{"p":16,"k":4,"x":10,"y":11},{"p":16,"k":4,"x":15,"y":16},{"p":16,"k":4,"x":20,"y":21},{"p":16,"k":4,"x":25,"y":26},{"p":16,"k":4,"x":30,"y":31},{"p":16,"k":4,"x":35,"y":36},{"p":16,"k":4,"x":40,"y":41},{"p":16,"k":4,"x":45,"y":46},{"p":16,"k":4,"x":50,"y":51},{"p":16,"k":4,"x":55,"y":56},{"p":16,"k":4,"x":60,"y":61},
{"p":16,"k":5,"x":22,"y":1},{"p":16,"k":5,"x":24,"y":1},
{"p":16,"k":6,"x":54,"y":1},
{"p":16,"k":8,"x":0,"y":1},{"p":16,"k":8,"x":5,"y":6},{"p":16,"k":8,"x":10,"y":11},{"p":16,"k":8,"x":15,"y":16},{"p":16,"k":8,"x":20,"y":21},{"p":16,"k":8,"x":25,"y":26},{"p":16,"k":8,"x":30,"y":31},{"p":16,"k":8,"x":35,"y":36},{"p":16,"k":8,"x":40,"y":41},{"p":16,"k":8,"x":45,"y":46},{"p":16,"k":8,"x":50,"y":51},{"p":16,"k":8,"x":55,"y":56},{"p":16,"k":8,"x":59,"y":60},
{"p":16,"k":9,"x":2,"y":1},{"p":16,"k":9,"x":5,"y":2},{"p":16,"k":9,"x":8,"y":4},{"p":16,"k":9,"x":12,"y":6},{"p":16,"k":9,"x":15,"y":7},{"p":16,"k":9,"x":19,"y":10},{"p":16,"k":9,"x":22,"y":13},{"p":16,"k":9,"x":26,"y":14},{"p":16,"k":9,"x":30,"y":15},{"p":16,"k":9,"x":34,"y":17},{"p":16,"k":9,"x":37,"y":19},{"p":16,"k":9,"x":40,"y":20},{"p":16,"k":9,"x":44,"y":22},{"p":16,"k":9,"x":47,"y":24},{"p":16,"k":9,"x":50,"y":26},{"p":16,"k":9,"x":54,"y":27},{"p":16,"k":9,"x":57,"y":28},
{"p":16,"k":10,"x":16,"y":1},{"p":16,"k":10,"x":44,"y":2},
{"p":16,"k":11,"x":0,"y":1},{"p":16,"k":11,"x":4,"y":5},{"p":16,"k":11,"x":8,"y":8},{"p":16,"k":11,"x":12,"y":12},{"p":16,"k":11,"x":16,"y":16},{"p":16,"k":11,"x":20,"y":19},{"p":16,"k":11,"x":24,"y":22},{"p":16,"k":11,"x":28,"y":26},{"p":16,"k":11,"x":32,"y":30},{"p":16,"k":11,"x":36,"y":33},{"p":16,"k":11,"x":40,"y":36},{"p":16,"k":11,"x":44,"y":39},{"p":16,"k":11,"x":48,"y":42},{"p":16,"k":11,"x":52,"y":45},{"p":16,"k":11,"x":55,"y":47},{"p":16,"k":11,"x":57,"y":48},
{"p":16,"k":12,"x":0,"y":1},{"p":16,"k":12,"x":5,"y":6},{"p":16,"k":12,"x":10,"y":11},{"p":16,"k":12,"x":15,"y":16},{"p":16,"k":12,"x":20,"y":21},{"p":16,"k":12,"x":25,"y":26},{"p":16,"k":12,"x":30,"y":31},{"p":16,"k":12,"x":35,"y":36},{"p":16,"k":12,"x":40,"y":41},{"p":16,"k":12,"x":45,"y":46},{"p":16,"k":12,"x":50,"y":51},{"p":16,"k":12,"x":54,"y":53},{"p":16,"k":12,"x":57,"y":55},
{"p":16,"k":13,"x":2,"y":2},{"p":16,"k":13,"x":6,"y":3},{"p":16,"k":13,"x":12,"y":5},{"p":16,"k":13,"x":17,"y":6},{"p":16,"k":13,"x":21,"y":7},{"p":16,"k":13,"x":26,"y":8},{"p":16,"k":13,"x":32,"y":10},{"p":16,"k":13,"x":36,"y":11},{"p":16,"k":13,"x":41,"y":12},{"p":16,"k":13,"x":47,"y":14},
{"p":16,"k":14,"x":0,"y":1},{"p":16,"k":14,"x":5,"y":6},{"p":16,"k":14,"x":10,"y":11},{"p":16,"k":14,"x":15,"y":16},{"p":16,"k":14,"x":20,"y":21},{"p":16,"k":14,"x":25,"y":26},{"p":16,"k":14,"x":30,"y":31},{"p":16,"k":14,"x":35,"y":36},{"p":16,"k":14,"x":40,"y":41},{"p":16,"k":14,"x":45,"y":46},{"p":16,"k":14,"x":50,"y":51},{"p":16,"k":14,"x":55,"y":56},{"p":16,"k":14,"x":57,"y":58},
{"p":16,"k":15,"x":0,"y":1},{"p":16,"k":15,"x":5,"y":6},{"p":16,"k":15,"x":10,"y":11},{"p":16,"k":15,"x":15,"y":16},{"p":16,"k":15,"x":20,"y":21},{"p":16,"k":15,"x":25,"y":26},{"p":16,"k":15,"x":30,"y":31},{"p":16,"k":15,"x":35,"y":36},{"p":16,"k":15,"x":40,"y":41},{"p":16,"k":15,"x":45,"y":46},{"p":16,"k":15,"x":50,"y":51},{"p":16,"k":15,"x":56,"y":56},
{"p":17,"k":1,"x":0,"y":1},{"p":17,"k":1,"x":5,"y":6},{"p":17,"k":1,"x":10,"y":11},{"p":17,"k":1,"x":15,"y":16},{"p":17,"k":1,"x":20,"y":20},{"p":17,"k":1,"x":25,"y":25},{"p":17,"k":1,"x":30,"y":30},{"p":17,"k":1,"x":35,"y":34},{"p":17,"k":1,"x":40,"y":38},{"p":17,"k":1,"x":45,"y":43},{"p":17,"k":1,"x":50,"y":48},{"p":17,"k":1,"x":52,"y":50},
{"p":17,"k":4,"x":0,"y":1},{"p":17,"k":4,"x":5,"y":6},{"p":17,"k":4,"x":10,"y":11},{"p":17,"k":4,"x":15,"y":16},{"p":17,"k":4,"x":20,"y":21},{"p":17,"k":4,"x":25,"y":26},{"p":17,"k":4,"x":30,"y":31},{"p":17,"k":4,"x":35,"y":36},{"p":17,"k":4,"x":40,"y":41},{"p":17,"k":4,"x":45,"y":46},{"p":17,"k":4,"x":50,"y":51},{"p":17,"k":4,"x":55,"y":55},
{"p":17,"k":13,"x":2,"y":1},{"p":17,"k":13,"x":18,"y":1},{"p":17,"k":13,"x":31,"y":2},
{"p":17,"k":14,"x":2,"y":2},
{"p":18,"k":1,"x":0,"y":1},{"p":18,"k":1,"x":5,"y":6},{"p":18,"k":1,"x":10,"y":11},{"p":18,"k":1,"x":15,"y":16},{"p":18,"k":1,"x":20,"y":21},{"p":18,"k":1,"x":25,"y":26},{"p":18,"k":1,"x":30,"y":31},{"p":18,"k":1,"x":35,"y":36},{"p":18,"k":1,"x":40,"y":41},{"p":18,"k":1,"x":45,"y":46},{"p":18,"k":1,"x":50,"y":51},{"p":18,"k":1,"x":55,"y":56},
{"p":18,"k":2,"x":0,"y":1},{"p":18,"k":2,"x":4,"y":5},{"p":18,"k":2,"x":8,"y":9},{"p":18,"k":2,"x":12,"y":13},{"p":18,"k":2,"x":16,"y":17},{"p":18,"k":2,"x":20,"y":20},{"p":18,"k":2,"x":24,"y":23},{"p":18,"k":2,"x":28,"y":26},{"p":18,"k":2,"x":32,"y":29},{"p":18,"k":2,"x":36,"y":32},{"p":18,"k":2,"x":40,"y":35},{"p":18,"k":2,"x":44,"y":38},{"p":18,"k":2,"x":48,"y":42},{"p":18,"k":2,"x":52,"y":46},{"p":18,"k":2,"x":54,"y":48},
{"p":18,"k":3,"x":2,"y":2},{"p":18,"k":3,"x":6,"y":6},{"p":18,"k":3,"x":10,"y":9},{"p":18,"k":3,"x":15,"y":12},{"p":18,"k":3,"x":20,"y":15},{"p":18,"k":3,"x":24,"y":18},{"p":18,"k":3,"x":28,"y":21},{"p":18,"k":3,"x":32,"y":23},{"p":18,"k":3,"x":36,"y":24},{"p":18,"k":3,"x":40,"y":25},{"p":18,"k":3,"x":44,"y":28},{"p":18,"k":3,"x":48,"y":31},{"p":18,"k":3,"x":51,"y":34},{"p":18,"k":3,"x":55,"y":37},
{"p":18,"k":4,"x":0,"y":1},{"p":18,"k":4,"x":5,"y":6},{"p":18,"k":4,"x":10,"y":11},{"p":18,"k":4,"x":15,"y":16},{"p":18,"k":4,"x":20,"y":21},{"p":18,"k":4,"x":25,"y":26},{"p":18,"k":4,"x":30,"y":31},{"p":18,"k":4,"x":35,"y":36},{"p":18,"k":4,"x":40,"y":41},{"p":18,"k":4,"x":45,"y":46},{"p":18,"k":4,"x":50,"y":51},{"p":18,"k":4,"x":55,"y":55},{"p":18,"k":4,"x":58,"y":56},
{"p":18,"k":7,"x":12,"y":1},
{"p":18,"k":12,"x":18,"y":1},{"p":18,"k":12,"x":21,"y":2},
{"p":18,"k":13,"x":1,"y":2},{"p":18,"k":13,"x":8,"y":4},{"p":18,"k":13,"x":15,"y":5},{"p":18,"k":13,"x":22,"y":6},{"p":18,"k":13,"x":28,"y":7},{"p":18,"k":13,"x":34,"y":7},{"p":18,"k":13,"x":41,"y":8},{"p":18,"k":13,"x":49,"y":10},
{"p":18,"k":14,"x":20,"y":1},{"p":18,"k":14,"x":25,"y":1},{"p":18,"k":14,"x":30,"y":2},{"p":18,"k":14,"x":35,"y":4},
{"p":18,"k":15,"x":2,"y":1},{"p":18,"k":15,"x":20,"y":1},{"p":18,"k":15,"x":53,"y":1},
{"p":19,"k":1,"x":0,"y":1},{"p":19,"k":1,"x":3,"y":3},{"p":19,"k":1,"x":6,"y":6},{"p":19,"k":1,"x":9,"y":9},{"p":19,"k":1,"x":12,"y":11},{"p":19,"k":1,"x":15,"y":14},{"p":19,"k":1,"x":19,"y":17},{"p":19,"k":1,"x":22,"y":19},{"p":19,"k":1,"x":26,"y":23},{"p":19,"k":1,"x":30,"y":26},{"p":19,"k":1,"x":33,"y":29},{"p":19,"k":1,"x":37,"y":32},{"p":19,"k":1,"x":41,"y":35},{"p":19,"k":1,"x":44,"y":38},{"p":19,"k":1,"x":46,"y":39},{"p":19,"k":1,"x":50,"y":41},{"p":19,"k":1,"x":53,"y":42},
{"p":19,"k":4,"x":1,"y":1},{"p":19,"k":4,"x":5,"y":1},{"p":19,"k":4,"x":19,"y":3},{"p":19,"k":4,"x":26,"y":5},{"p":19,"k":4,"x":34,"y":6},{"p":19,"k":4,"x":40,"y":7},{"p":19,"k":4,"x":46,"y":8},{"p":19,"k":4,"x":55,"y":10},
{"p":19,"k":13,"x":5,"y":1},{"p":19,"k":13,"x":19,"y":2},{"p":19,"k":13,"x":26,"y":3},{"p":19,"k":13,"x":30,"y":4},
{"p":19,"k":14,"x":22,"y":1},{"p":19,"k":14,"x":44,"y":2},
{"p":19,"k":15,"x":6,"y":1},
{"p":20,"k":5,"x":4,"y":3},{"p":20,"k":5,"x":8,"y":4},{"p":20,"k":5,"x":12,"y":5},{"p":20,"k":5,"x":15,"y":7},{"p":20,"k":5,"x":18,"y":9},{"p":20,"k":5,"x":22,"y":10},{"p":20,"k":5,"x":26,"y":12},{"p":20,"k":5,"x":30,"y":13},{"p":20,"k":5,"x":32,"y":15},{"p":20,"k":5,"x":36,"y":16},{"p":20,"k":5,"x":40,"y":17},{"p":20,"k":5,"x":44,"y":18},{"p":20,"k":5,"x":48,"y":19},{"p":20,"k":5,"x":54,"y":20},
{"p":20,"k":6,"x":4,"y":1},{"p":20,"k":6,"x":8,"y":2},{"p":20,"k":6,"x":12,"y":3},{"p":20,"k":6,"x":20,"y":3},{"p":20,"k":6,"x":26,"y":4},{"p":20,"k":6,"x":33,"y":4},{"p":20,"k":6,"x":39,"y":5},{"p":20,"k":6,"x":45,"y":5},{"p":20,"k":6,"x":51,"y":6},
{"p":20,"k":7,"x":0,"y":1},{"p":20,"k":7,"x":5,"y":6},{"p":20,"k":7,"x":10,"y":11},{"p":20,"k":7,"x":15,"y":16},{"p":20,"k":7,"x":20,"y":21},{"p":20,"k":7,"x":25,"y":26},{"p":20,"k":7,"x":30,"y":31},{"p":20,"k":7,"x":35,"y":36},{"p":20,"k":7,"x":40,"y":41},{"p":20,"k":7,"x":45,"y":46},{"p":20,"k":7,"x":50,"y":51},{"p":20,"k":7,"x":55,"y":56},{"p":20,"k":7,"x":58,"y":57},
{"p":20,"k":8,"x":0,"y":1},{"p":20,"k":8,"x":5,"y":6},{"p":20,"k":8,"x":10,"y":11},{"p":20,"k":8,"x":15,"y":16},{"p":20,"k":8,"x":20,"y":21},{"p":20,"k":8,"x":25,"y":26},{"p":20,"k":8,"x":30,"y":31},{"p":20,"k":8,"x":35,"y":36},{"p":20,"k":8,"x":40,"y":41},{"p":20,"k":8,"x":45,"y":46},{"p":20,"k":8,"x":50,"y":51},{"p":20,"k":8,"x":55,"y":56},{"p":20,"k":8,"x":60,"y":61},
{"p":20,"k":9,"x":0,"y":1},{"p":20,"k":9,"x":4,"y":3},{"p":20,"k":9,"x":8,"y":5},{"p":20,"k":9,"x":12,"y":8},{"p":20,"k":9,"x":16,"y":12},{"p":20,"k":9,"x":20,"y":15},{"p":20,"k":9,"x":24,"y":19},{"p":20,"k":9,"x":28,"y":23},{"p":20,"k":9,"x":32,"y":27},{"p":20,"k":9,"x":36,"y":30},{"p":20,"k":9,"x":40,"y":34},{"p":20,"k":9,"x":44,"y":38},{"p":20,"k":9,"x":48,"y":41},{"p":20,"k":9,"x":52,"y":45},{"p":20,"k":9,"x":55,"y":47},{"p":20,"k":9,"x":58,"y":49},
{"p":20,"k":10,"x":4,"y":2},{"p":20,"k":10,"x":8,"y":4},{"p":20,"k":10,"x":12,"y":5},{"p":20,"k":10,"x":17,"y":6},{"p":20,"k":10,"x":21,"y":7},{"p":20,"k":10,"x":25,"y":8},{"p":20,"k":10,"x":30,"y":10},{"p":20,"k":10,"x":35,"y":11},{"p":20,"k":10,"x":39,"y":12},{"p":20,"k":10,"x":44,"y":13},{"p":20,"k":10,"x":51,"y":14},
{"p":20,"k":13,"x":2,"y":3},{"p":20,"k":13,"x":5,"y":6},{"p":20,"k":13,"x":8,"y":8},{"p":20,"k":13,"x":12,"y":11},{"p":20,"k":13,"x":16,"y":15},{"p":20,"k":13,"x":21,"y":18},{"p":20,"k":13,"x":25,"y":19},{"p":20,"k":13,"x":30,"y":20},{"p":20,"k":13,"x":33,"y":22},{"p":20,"k":13,"x":35,"y":24},{"p":20,"k":13,"x":39,"y":25},{"p":20,"k":13,"x":43,"y":25},{"p":20,"k":13,"x":47,"y":27},
{"p":20,"k":15,"x":0,"y":1},{"p":20,"k":15,"x":5,"y":6},{"p":20,"k":15,"x":10,"y":11},{"p":20,"k":15,"x":15,"y":16},{"p":20,"k":15,"x":20,"y":21},{"p":20,"k":15,"x":25,"y":26},{"p":20,"k":15,"x":30,"y":31},{"p":20,"k":15,"x":35,"y":36},{"p":20,"k":15,"x":40,"y":41},{"p":20,"k":15,"x":45,"y":46},{"p":20,"k":15,"x":50,"y":51},{"p":20,"k":15,"x":55,"y":56},{"p":20,"k":15,"x":59,"y":59},
{"p":21,"k":4,"x":0,"y":1},{"p":21,"k":4,"x":5,"y":6},{"p":21,"k":4,"x":10,"y":11},{"p":21,"k":4,"x":15,"y":16},{"p":21,"k":4,"x":20,"y":21},{"p":21,"k":4,"x":25,"y":26},{"p":21,"k":4,"x":30,"y":31},{"p":21,"k":4,"x":35,"y":36},{"p":21,"k":4,"x":40,"y":41},{"p":21,"k":4,"x":45,"y":46},{"p":21,"k":4,"x":50,"y":51},{"p":21,"k":4,"x":55,"y":56},{"p":21,"k":4,"x":60,"y":60},
{"p":21,"k":7,"x":47,"y":1},
{"p":21,"k":11,"x":51,"y":1},
{"p":21,"k":12,"x":9,"y":1},{"p":21,"k":12,"x":17,"y":2},
{"p":21,"k":13,"x":0,"y":1},{"p":21,"k":13,"x":5,"y":2},{"p":21,"k":13,"x":11,"y":3},{"p":21,"k":13,"x":18,"y":5},{"p":21,"k":13,"x":20,"y":7},{"p":21,"k":13,"x":22,"y":9},{"p":21,"k":13,"x":25,"y":11},{"p":21,"k":13,"x":28,"y":12},{"p":21,"k":13,"x":32,"y":13},{"p":21,"k":13,"x":37,"y":14},{"p":21,"k":13,"x":42,"y":15},{"p":21,"k":13,"x":47,"y":17},{"p":21,"k":13,"x":50,"y":19},{"p":21,"k":13,"x":53,"y":20},
{"p":21,"k":14,"x":5,"y":2},{"p":21,"k":14,"x":12,"y":3},{"p":21,"k":14,"x":18,"y":4},{"p":21,"k":14,"x":26,"y":4},{"p":21,"k":14,"x":32,"y":5},{"p":21,"k":14,"x":36,"y":7},
{"p":21,"k":15,"x":38,"y":1},
{"p":22,"k":3,"x":2,"y":2},{"p":22,"k":3,"x":6,"y":4},{"p":22,"k":3,"x":10,"y":6},{"p":22,"k":3,"x":14,"y":8},{"p":22,"k":3,"x":19,"y":10},{"p":22,"k":3,"x":24,"y":11},{"p":22,"k":3,"x":28,"y":12},{"p":22,"k":3,"x":32,"y":12},{"p":22,"k":3,"x":36,"y":13},{"p":22,"k":3,"x":40,"y":15},{"p":22,"k":3,"x":45,"y":16},{"p":22,"k":3,"x":50,"y":17},
{"p":22,"k":4,"x":0,"y":1},{"p":22,"k":4,"x":5,"y":6},{"p":22,"k":4,"x":10,"y":11},{"p":22,"k":4,"x":15,"y":16},{"p":22,"k":4,"x":20,"y":21},{"p":22,"k":4,"x":25,"y":26},{"p":22,"k":4,"x":30,"y":31},{"p":22,"k":4,"x":35,"y":36},{"p":22,"k":4,"x":40,"y":41},{"p":22,"k":4,"x":45,"y":46},{"p":22,"k":4,"x":50,"y":51},{"p":22,"k":4,"x":55,"y":56},{"p":22,"k":4,"x":59,"y":60},
{"p":22,"k":7,"x":8,"y":1},{"p":22,"k":7,"x":10,"y":2},{"p":22,"k":7,"x":35,"y":3},
{"p":22,"k":11,"x":19,"y":1},{"p":22,"k":11,"x":48,"y":2},
{"p":22,"k":12,"x":18,"y":1},{"p":22,"k":12,"x":26,"y":2},{"p":22,"k":12,"x":47,"y":3},
{"p":22,"k":13,"x":0,"y":2},{"p":22,"k":13,"x":4,"y":5},{"p":22,"k":13,"x":8,"y":8},{"p":22,"k":13,"x":12,"y":12},{"p":22,"k":13,"x":16,"y":14},{"p":22,"k":13,"x":20,"y":16},{"p":22,"k":13,"x":23,"y":18},{"p":22,"k":13,"x":25,"y":22},{"p":22,"k":13,"x":28,"y":25},{"p":22,"k":13,"x":31,"y":27},{"p":22,"k":13,"x":36,"y":29},{"p":22,"k":13,"x":40,"y":30},{"p":22,"k":13,"x":44,"y":32},{"p":22,"k":13,"x":48,"y":33},{"p":22,"k":13,"x":52,"y":35},{"p":22,"k":13,"x":57,"y":37},
{"p":22,"k":14,"x":8,"y":2},{"p":22,"k":14,"x":12,"y":3},{"p":22,"k":14,"x":16,"y":5},{"p":22,"k":14,"x":19,"y":6},{"p":22,"k":14,"x":24,"y":7},{"p":22,"k":14,"x":28,"y":8},{"p":22,"k":14,"x":32,"y":8},{"p":22,"k":14,"x":40,"y":9},{"p":22,"k":14,"x":50,"y":10},
{"p":22,"k":15,"x":0,"y":1},{"p":22,"k":15,"x":8,"y":1},{"p":22,"k":15,"x":16,"y":2},{"p":22,"k":15,"x":24,"y":2},{"p":22,"k":15,"x":33,"y":3},
{"p":23,"k":1,"x":0,"y":1},{"p":23,"k":1,"x":5,"y":6},{"p":23,"k":1,"x":10,"y":11},{"p":23,"k":1,"x":15,"y":16},{"p":23,"k":1,"x":20,"y":20},{"p":23,"k":1,"x":25,"y":25},{"p":23,"k":1,"x":30,"y":30},{"p":23,"k":1,"x":35,"y":35},{"p":23,"k":1,"x":40,"y":40},{"p":23,"k":1,"x":45,"y":44},{"p":23,"k":1,"x":50,"y":49},{"p":23,"k":1,"x":57,"y":55},
{"p":23,"k":3,"x":0,"y":1},{"p":23,"k":3,"x":5,"y":5},{"p":23,"k":3,"x":10,"y":10},{"p":23,"k":3,"x":15,"y":14},{"p":23,"k":3,"x":20,"y":19},{"p":23,"k":3,"x":25,"y":23},{"p":23,"k":3,"x":30,"y":28},{"p":23,"k":3,"x":35,"y":33},{"p":23,"k":3,"x":40,"y":37},{"p":23,"k":3,"x":45,"y":42},{"p":23,"k":3,"x":50,"y":46},{"p":23,"k":3,"x":54,"y":50},
{"p":23,"k":4,"x":0,"y":1},{"p":23,"k":4,"x":5,"y":6},{"p":23,"k":4,"x":10,"y":11},{"p":23,"k":4,"x":15,"y":16},{"p":23,"k":4,"x":20,"y":21},{"p":23,"k":4,"x":25,"y":26},{"p":23,"k":4,"x":30,"y":31},{"p":23,"k":4,"x":35,"y":36},{"p":23,"k":4,"x":40,"y":41},{"p":23,"k":4,"x":45,"y":46},{"p":23,"k":4,"x":50,"y":51},{"p":23,"k":4,"x":55,"y":56},
{"p":23,"k":7,"x":6,"y":1},{"p":23,"k":7,"x":13,"y":3},{"p":23,"k":7,"x":24,"y":4},{"p":23,"k":7,"x":34,"y":5},{"p":23,"k":7,"x":40,"y":6},
{"p":23,"k":9,"x":13,"y":1},
{"p":23,"k":11,"x":31,"y":1},
{"p":23,"k":12,"x":1,"y":1},{"p":23,"k":12,"x":8,"y":3},{"p":23,"k":12,"x":15,"y":3},{"p":23,"k":12,"x":29,"y":5},
{"p":23,"k":13,"x":1,"y":2},{"p":23,"k":13,"x":6,"y":4},{"p":23,"k":13,"x":12,"y":6},{"p":23,"k":13,"x":15,"y":10},{"p":23,"k":13,"x":17,"y":13},{"p":23,"k":13,"x":22,"y":14},{"p":23,"k":13,"x":26,"y":16},{"p":23,"k":13,"x":31,"y":17},{"p":23,"k":13,"x":35,"y":19},{"p":23,"k":13,"x":39,"y":21},{"p":23,"k":13,"x":43,"y":23},{"p":23,"k":13,"x":50,"y":25},
{"p":23,"k":14,"x":17,"y":1},
{"p":23,"k":15,"x":27,"y":2},{"p":23,"k":15,"x":52,"y":2}
]},
"data":{"name":"d"},
"transform":[{"lookup":"k","from":{"data":{"name":"sp"},"key":"k","fields":["Species"]}}],
"columns":6,
"bounds":"flush",
"align":"each",
"spacing":{"row":3.8,"column":4},
"concat":[
{"width":121,"height":11.5,"data":{"values":[{"t":"bt"}]},"mark":{"type":"text","fontWeight":"bold","fontSize":9,"color":"#1a1a1a"},"encoding":{"text":{"field":"t"}},"view":{"fill":"#d9d9d9","stroke":"#8c8c8c"}},
{"width":121,"height":11.5,"data":{"values":[{"t":"chelex"}]},"mark":{"type":"text","fontWeight":"bold","fontSize":9,"color":"#1a1a1a"},"encoding":{"text":{"field":"t"}},"view":{"fill":"#d9d9d9","stroke":"#8c8c8c"}},
{"width":121,"height":11.5,"data":{"values":[{"t":"dpcr"}]},"mark":{"type":"text","fontWeight":"bold","fontSize":9,"color":"#1a1a1a"},"encoding":{"text":{"field":"t"}},"view":{"fill":"#d9d9d9","stroke":"#8c8c8c"}},
{"width":121,"height":11.5,"data":{"values":[{"t":"qe"}]},"mark":{"type":"text","fontWeight":"bold","fontSize":9,"color":"#1a1a1a"},"encoding":{"text":{"field":"t"}},"view":{"fill":"#d9d9d9","stroke":"#8c8c8c"}},
{"width":11,"height":11.5,"data":{"values":[{"t":""}]},"mark":{"type":"text"},"encoding":{"text":{"field":"t"}},"view":{"stroke":null}},
{"width":11,"height":11.5,"data":{"values":[{"t":""}]},"mark":{"type":"text"},"encoding":{"text":{"field":"t"}},"view":{"stroke":null}},

{"width":121,"height":94,"transform":[{"filter":"datum.p==0"}],"mark":{"type":"line","strokeWidth":1.6,"point":{"filled":true,"size":11,"opacity":1}},"encoding":{"x":{"field":"x","type":"quantitative","scale":{"domain":[-3.1,62.9]},"axis":{"values":[-2.5,0,2.5,5,7.5,10,12.5,15,17.5,20,22.5,25,27.5,30,32.5,35,37.5,40,42.5,45,47.5,50,52.5,55,57.5,60,62.5],"labels":false,"ticks":false,"title":null}},"y":{"field":"y","type":"quantitative","scale":{"domain":[-2,64.2]},"axis":{"values":[0,10,20,30,40,50,60],"labelExpr":"datum.value % 20 == 0 ? datum.label : ''","title":null}},"color":{"field":"Species","type":"nominal"}}},
{"width":121,"height":94,"transform":[{"filter":"datum.p==1"}],"mark":{"type":"line","strokeWidth":1.6,"point":{"filled":true,"size":11,"opacity":1}},"encoding":{"x":{"field":"x","type":"quantitative","scale":{"domain":[-3.1,62.9]},"axis":{"values":[-2.5,0,2.5,5,7.5,10,12.5,15,17.5,20,22.5,25,27.5,30,32.5,35,37.5,40,42.5,45,47.5,50,52.5,55,57.5,60,62.5],"labels":false,"ticks":false,"title":null}},"y":{"field":"y","type":"quantitative","scale":{"domain":[-2,64.2]},"axis":{"values":[0,10,20,30,40,50,60],"labels":false,"ticks":false,"title":null}},"color":{"field":"Species","type":"nominal"}}},
{"width":121,"height":94,"transform":[{"filter":"datum.p==2"}],"mark":{"type":"line","strokeWidth":1.6,"point":{"filled":true,"size":11,"opacity":1}},"encoding":{"x":{"field":"x","type":"quantitative","scale":{"domain":[-3.1,62.9]},"axis":{"values":[-2.5,0,2.5,5,7.5,10,12.5,15,17.5,20,22.5,25,27.5,30,32.5,35,37.5,40,42.5,45,47.5,50,52.5,55,57.5,60,62.5],"labels":false,"ticks":false,"title":null}},"y":{"field":"y","type":"quantitative","scale":{"domain":[-2,64.2]},"axis":{"values":[0,10,20,30,40,50,60],"labels":false,"ticks":false,"title":null}},"color":{"field":"Species","type":"nominal"}}},
{"width":121,"height":94,"transform":[{"filter":"datum.p==3"}],"mark":{"type":"line","strokeWidth":1.6,"point":{"filled":true,"size":11,"opacity":1}},"encoding":{"x":{"field":"x","type":"quantitative","scale":{"domain":[-3.1,62.9]},"axis":{"values":[-2.5,0,2.5,5,7.5,10,12.5,15,17.5,20,22.5,25,27.5,30,32.5,35,37.5,40,42.5,45,47.5,50,52.5,55,57.5,60,62.5],"labels":false,"ticks":false,"title":null}},"y":{"field":"y","type":"quantitative","scale":{"domain":[-2,64.2]},"axis":{"values":[0,10,20,30,40,50,60],"labels":false,"ticks":false,"title":null}},"color":{"field":"Species","type":"nominal"}}},
{"width":11,"height":94,"data":{"values":[{"t":"marver"}]},"mark":{"type":"text","angle":90,"fontWeight":"bold","fontSize":9,"color":"#1a1a1a"},"encoding":{"text":{"field":"t"}},"view":{"fill":"#d9d9d9","stroke":"#8c8c8c"}},
{"width":11,"height":94,"data":{"values":[{"t":"fast"}]},"mark":{"type":"text","angle":90,"fontWeight":"bold","fontSize":9,"color":"#1a1a1a"},"encoding":{"text":{"field":"t"}},"view":{"fill":"#d9d9d9","stroke":"#8c8c8c"}},

{"width":121,"height":94,"transform":[{"filter":"datum.p==4"}],"mark":{"type":"line","strokeWidth":1.6,"point":{"filled":true,"size":11,"opacity":1}},"encoding":{"x":{"field":"x","type":"quantitative","scale":{"domain":[-3.1,62.9]},"axis":{"values":[-2.5,0,2.5,5,7.5,10,12.5,15,17.5,20,22.5,25,27.5,30,32.5,35,37.5,40,42.5,45,47.5,50,52.5,55,57.5,60,62.5],"labels":false,"ticks":false,"title":null}},"y":{"field":"y","type":"quantitative","scale":{"domain":[-2,64.2]},"axis":{"values":[0,10,20,30,40,50,60],"labelExpr":"datum.value % 20 == 0 ? datum.label : ''","title":null}},"color":{"field":"Species","type":"nominal"}}},
{"width":121,"height":94,"transform":[{"filter":"datum.p==5"}],"mark":{"type":"line","strokeWidth":1.6,"point":{"filled":true,"size":11,"opacity":1}},"encoding":{"x":{"field":"x","type":"quantitative","scale":{"domain":[-3.1,62.9]},"axis":{"values":[-2.5,0,2.5,5,7.5,10,12.5,15,17.5,20,22.5,25,27.5,30,32.5,35,37.5,40,42.5,45,47.5,50,52.5,55,57.5,60,62.5],"labels":false,"ticks":false,"title":null}},"y":{"field":"y","type":"quantitative","scale":{"domain":[-2,64.2]},"axis":{"values":[0,10,20,30,40,50,60],"labels":false,"ticks":false,"title":null}},"color":{"field":"Species","type":"nominal"}}},
{"width":121,"height":94,"transform":[{"filter":"datum.p==6"}],"mark":{"type":"line","strokeWidth":1.6,"point":{"filled":true,"size":11,"opacity":1}},"encoding":{"x":{"field":"x","type":"quantitative","scale":{"domain":[-3.1,62.9]},"axis":{"values":[-2.5,0,2.5,5,7.5,10,12.5,15,17.5,20,22.5,25,27.5,30,32.5,35,37.5,40,42.5,45,47.5,50,52.5,55,57.5,60,62.5],"labels":false,"ticks":false,"title":null}},"y":{"field":"y","type":"quantitative","scale":{"domain":[-2,64.2]},"axis":{"values":[0,10,20,30,40,50,60],"labels":false,"ticks":false,"title":null}},"color":{"field":"Species","type":"nominal"}}},
{"width":121,"height":94,"transform":[{"filter":"datum.p==7"}],"mark":{"type":"line","strokeWidth":1.6,"point":{"filled":true,"size":11,"opacity":1}},"encoding":{"x":{"field":"x","type":"quantitative","scale":{"domain":[-3.1,62.9]},"axis":{"values":[-2.5,0,2.5,5,7.5,10,12.5,15,17.5,20,22.5,25,27.5,30,32.5,35,37.5,40,42.5,45,47.5,50,52.5,55,57.5,60,62.5],"labels":false,"ticks":false,"title":null}},"y":{"field":"y","type":"quantitative","scale":{"domain":[-2,64.2]},"axis":{"values":[0,10,20,30,40,50,60],"labels":false,"ticks":false,"title":null}},"color":{"field":"Species","type":"nominal"}}},
{"width":11,"height":94,"data":{"values":[{"t":"mifish"}]},"mark":{"type":"text","angle":90,"fontWeight":"bold","fontSize":9,"color":"#1a1a1a"},"encoding":{"text":{"field":"t"}},"view":{"fill":"#d9d9d9","stroke":"#8c8c8c"}},
{"width":11,"height":94,"data":{"values":[{"t":"fast"}]},"mark":{"type":"text","angle":90,"fontWeight":"bold","fontSize":9,"color":"#1a1a1a"},"encoding":{"text":{"field":"t"}},"view":{"fill":"#d9d9d9","stroke":"#8c8c8c"}},

{"width":121,"height":94,"transform":[{"filter":"datum.p==8"}],"mark":{"type":"line","strokeWidth":1.6,"point":{"filled":true,"size":11,"opacity":1}},"encoding":{"x":{"field":"x","type":"quantitative","scale":{"domain":[-3.1,62.9]},"axis":{"values":[-2.5,0,2.5,5,7.5,10,12.5,15,17.5,20,22.5,25,27.5,30,32.5,35,37.5,40,42.5,45,47.5,50,52.5,55,57.5,60,62.5],"labels":false,"ticks":false,"title":null}},"y":{"field":"y","type":"quantitative","scale":{"domain":[-2,64.2]},"axis":{"values":[0,10,20,30,40,50,60],"labelExpr":"datum.value % 20 == 0 ? datum.label : ''","title":"Cumulative Detections","titleY":96}},"color":{"field":"Species","type":"nominal"}}},
{"width":121,"height":94,"transform":[{"filter":"datum.p==9"}],"mark":{"type":"line","strokeWidth":1.6,"point":{"filled":true,"size":11,"opacity":1}},"encoding":{"x":{"field":"x","type":"quantitative","scale":{"domain":[-3.1,62.9]},"axis":{"values":[-2.5,0,2.5,5,7.5,10,12.5,15,17.5,20,22.5,25,27.5,30,32.5,35,37.5,40,42.5,45,47.5,50,52.5,55,57.5,60,62.5],"labels":false,"ticks":false,"title":null}},"y":{"field":"y","type":"quantitative","scale":{"domain":[-2,64.2]},"axis":{"values":[0,10,20,30,40,50,60],"labels":false,"ticks":false,"title":null}},"color":{"field":"Species","type":"nominal"}}},
{"width":121,"height":94,"transform":[{"filter":"datum.p==10"}],"mark":{"type":"line","strokeWidth":1.6,"point":{"filled":true,"size":11,"opacity":1}},"encoding":{"x":{"field":"x","type":"quantitative","scale":{"domain":[-3.1,62.9]},"axis":{"values":[-2.5,0,2.5,5,7.5,10,12.5,15,17.5,20,22.5,25,27.5,30,32.5,35,37.5,40,42.5,45,47.5,50,52.5,55,57.5,60,62.5],"labels":false,"ticks":false,"title":null}},"y":{"field":"y","type":"quantitative","scale":{"domain":[-2,64.2]},"axis":{"values":[0,10,20,30,40,50,60],"labels":false,"ticks":false,"title":null}},"color":{"field":"Species","type":"nominal"}}},
{"width":121,"height":94,"transform":[{"filter":"datum.p==11"}],"mark":{"type":"line","strokeWidth":1.6,"point":{"filled":true,"size":11,"opacity":1}},"encoding":{"x":{"field":"x","type":"quantitative","scale":{"domain":[-3.1,62.9]},"axis":{"values":[-2.5,0,2.5,5,7.5,10,12.5,15,17.5,20,22.5,25,27.5,30,32.5,35,37.5,40,42.5,45,47.5,50,52.5,55,57.5,60,62.5],"labels":false,"ticks":false,"title":null}},"y":{"field":"y","type":"quantitative","scale":{"domain":[-2,64.2]},"axis":{"values":[0,10,20,30,40,50,60],"labels":false,"ticks":false,"title":null}},"color":{"field":"Species","type":"nominal"}}},
{"width":11,"height":94,"data":{"values":[{"t":"marver"}]},"mark":{"type":"text","angle":90,"fontWeight":"bold","fontSize":9,"color":"#1a1a1a"},"encoding":{"text":{"field":"t"}},"view":{"fill":"#d9d9d9","stroke":"#8c8c8c"}},
{"width":11,"height":94,"data":{"values":[{"t":"hac"}]},"mark":{"type":"text","angle":90,"fontWeight":"bold","fontSize":9,"color":"#1a1a1a"},"encoding":{"text":{"field":"t"}},"view":{"fill":"#d9d9d9","stroke":"#8c8c8c"}},

{"width":121,"height":94,"transform":[{"filter":"datum.p==12"}],"mark":{"type":"line","strokeWidth":1.6,"point":{"filled":true,"size":11,"opacity":1}},"encoding":{"x":{"field":"x","type":"quantitative","scale":{"domain":[-3.1,62.9]},"axis":{"values":[-2.5,0,2.5,5,7.5,10,12.5,15,17.5,20,22.5,25,27.5,30,32.5,35,37.5,40,42.5,45,47.5,50,52.5,55,57.5,60,62.5],"labels":false,"ticks":false,"title":null}},"y":{"field":"y","type":"quantitative","scale":{"domain":[-2,64.2]},"axis":{"values":[0,10,20,30,40,50,60],"labelExpr":"datum.value % 20 == 0 ? datum.label : ''","title":null}},"color":{"field":"Species","type":"nominal"}}},
{"width":121,"height":94,"transform":[{"filter":"datum.p==13"}],"mark":{"type":"line","strokeWidth":1.6,"point":{"filled":true,"size":11,"opacity":1}},"encoding":{"x":{"field":"x","type":"quantitative","scale":{"domain":[-3.1,62.9]},"axis":{"values":[-2.5,0,2.5,5,7.5,10,12.5,15,17.5,20,22.5,25,27.5,30,32.5,35,37.5,40,42.5,45,47.5,50,52.5,55,57.5,60,62.5],"labels":false,"ticks":false,"title":null}},"y":{"field":"y","type":"quantitative","scale":{"domain":[-2,64.2]},"axis":{"values":[0,10,20,30,40,50,60],"labels":false,"ticks":false,"title":null}},"color":{"field":"Species","type":"nominal"}}},
{"width":121,"height":94,"transform":[{"filter":"datum.p==14"}],"mark":{"type":"line","strokeWidth":1.6,"point":{"filled":true,"size":11,"opacity":1}},"encoding":{"x":{"field":"x","type":"quantitative","scale":{"domain":[-3.1,62.9]},"axis":{"values":[-2.5,0,2.5,5,7.5,10,12.5,15,17.5,20,22.5,25,27.5,30,32.5,35,37.5,40,42.5,45,47.5,50,52.5,55,57.5,60,62.5],"labels":false,"ticks":false,"title":null}},"y":{"field":"y","type":"quantitative","scale":{"domain":[-2,64.2]},"axis":{"values":[0,10,20,30,40,50,60],"labels":false,"ticks":false,"title":null}},"color":{"field":"Species","type":"nominal"}}},
{"width":121,"height":94,"transform":[{"filter":"datum.p==15"}],"mark":{"type":"line","strokeWidth":1.6,"point":{"filled":true,"size":11,"opacity":1}},"encoding":{"x":{"field":"x","type":"quantitative","scale":{"domain":[-3.1,62.9]},"axis":{"values":[-2.5,0,2.5,5,7.5,10,12.5,15,17.5,20,22.5,25,27.5,30,32.5,35,37.5,40,42.5,45,47.5,50,52.5,55,57.5,60,62.5],"labels":false,"ticks":false,"title":null}},"y":{"field":"y","type":"quantitative","scale":{"domain":[-2,64.2]},"axis":{"values":[0,10,20,30,40,50,60],"labels":false,"ticks":false,"title":null}},"color":{"field":"Species","type":"nominal"}}},
{"width":11,"height":94,"data":{"values":[{"t":"mifish"}]},"mark":{"type":"text","angle":90,"fontWeight":"bold","fontSize":9,"color":"#1a1a1a"},"encoding":{"text":{"field":"t"}},"view":{"fill":"#d9d9d9","stroke":"#8c8c8c"}},
{"width":11,"height":94,"data":{"values":[{"t":"hac"}]},"mark":{"type":"text","angle":90,"fontWeight":"bold","fontSize":9,"color":"#1a1a1a"},"encoding":{"text":{"field":"t"}},"view":{"fill":"#d9d9d9","stroke":"#8c8c8c"}},

{"width":121,"height":94,"transform":[{"filter":"datum.p==16"}],"mark":{"type":"line","strokeWidth":1.6,"point":{"filled":true,"size":11,"opacity":1}},"encoding":{"x":{"field":"x","type":"quantitative","scale":{"domain":[-3.1,62.9]},"axis":{"values":[-2.5,0,2.5,5,7.5,10,12.5,15,17.5,20,22.5,25,27.5,30,32.5,35,37.5,40,42.5,45,47.5,50,52.5,55,57.5,60,62.5],"labels":false,"ticks":false,"title":null}},"y":{"field":"y","type":"quantitative","scale":{"domain":[-2,64.2]},"axis":{"values":[0,10,20,30,40,50,60],"labelExpr":"datum.value % 20 == 0 ? datum.label : ''","title":null}},"color":{"field":"Species","type":"nominal"}}},
{"width":121,"height":94,"transform":[{"filter":"datum.p==17"}],"mark":{"type":"line","strokeWidth":1.6,"point":{"filled":true,"size":11,"opacity":1}},"encoding":{"x":{"field":"x","type":"quantitative","scale":{"domain":[-3.1,62.9]},"axis":{"values":[-2.5,0,2.5,5,7.5,10,12.5,15,17.5,20,22.5,25,27.5,30,32.5,35,37.5,40,42.5,45,47.5,50,52.5,55,57.5,60,62.5],"labels":false,"ticks":false,"title":null}},"y":{"field":"y","type":"quantitative","scale":{"domain":[-2,64.2]},"axis":{"values":[0,10,20,30,40,50,60],"labels":false,"ticks":false,"title":null}},"color":{"field":"Species","type":"nominal"}}},
{"width":121,"height":94,"transform":[{"filter":"datum.p==18"}],"mark":{"type":"line","strokeWidth":1.6,"point":{"filled":true,"size":11,"opacity":1}},"encoding":{"x":{"field":"x","type":"quantitative","scale":{"domain":[-3.1,62.9]},"axis":{"values":[-2.5,0,2.5,5,7.5,10,12.5,15,17.5,20,22.5,25,27.5,30,32.5,35,37.5,40,42.5,45,47.5,50,52.5,55,57.5,60,62.5],"labels":false,"ticks":false,"title":null}},"y":{"field":"y","type":"quantitative","scale":{"domain":[-2,64.2]},"axis":{"values":[0,10,20,30,40,50,60],"labels":false,"ticks":false,"title":null}},"color":{"field":"Species","type":"nominal"}}},
{"width":121,"height":94,"transform":[{"filter":"datum.p==19"}],"mark":{"type":"line","strokeWidth":1.6,"point":{"filled":true,"size":11,"opacity":1}},"encoding":{"x":{"field":"x","type":"quantitative","scale":{"domain":[-3.1,62.9]},"axis":{"values":[-2.5,0,2.5,5,7.5,10,12.5,15,17.5,20,22.5,25,27.5,30,32.5,35,37.5,40,42.5,45,47.5,50,52.5,55,57.5,60,62.5],"labels":false,"ticks":false,"title":null}},"y":{"field":"y","type":"quantitative","scale":{"domain":[-2,64.2]},"axis":{"values":[0,10,20,30,40,50,60],"labels":false,"ticks":false,"title":null}},"color":{"field":"Species","type":"nominal"}}},
{"width":11,"height":94,"data":{"values":[{"t":"marver"}]},"mark":{"type":"text","angle":90,"fontWeight":"bold","fontSize":9,"color":"#1a1a1a"},"encoding":{"text":{"field":"t"}},"view":{"fill":"#d9d9d9","stroke":"#8c8c8c"}},
{"width":11,"height":94,"data":{"values":[{"t":"sup"}]},"mark":{"type":"text","angle":90,"fontWeight":"bold","fontSize":9,"color":"#1a1a1a"},"encoding":{"text":{"field":"t"}},"view":{"fill":"#d9d9d9","stroke":"#8c8c8c"}},

{"width":121,"height":94,"transform":[{"filter":"datum.p==20"}],"mark":{"type":"line","strokeWidth":1.6,"point":{"filled":true,"size":11,"opacity":1}},"encoding":{"x":{"field":"x","type":"quantitative","scale":{"domain":[-3.1,62.9]},"axis":{"values":[-2.5,0,2.5,5,7.5,10,12.5,15,17.5,20,22.5,25,27.5,30,32.5,35,37.5,40,42.5,45,47.5,50,52.5,55,57.5,60,62.5],"labelExpr":"datum.value % 5 == 0 && datum.value >= 0 ? datum.label : ''","title":null}},"y":{"field":"y","type":"quantitative","scale":{"domain":[-2,64.2]},"axis":{"values":[0,10,20,30,40,50,60],"labelExpr":"datum.value % 20 == 0 ? datum.label : ''","title":null}},"color":{"field":"Species","type":"nominal"}}},
{"width":121,"height":94,"transform":[{"filter":"datum.p==21"}],"mark":{"type":"line","strokeWidth":1.6,"point":{"filled":true,"size":11,"opacity":1}},"encoding":{"x":{"field":"x","type":"quantitative","scale":{"domain":[-3.1,62.9]},"axis":{"values":[-2.5,0,2.5,5,7.5,10,12.5,15,17.5,20,22.5,25,27.5,30,32.5,35,37.5,40,42.5,45,47.5,50,52.5,55,57.5,60,62.5],"labelExpr":"datum.value % 5 == 0 && datum.value >= 0 ? datum.label : ''","title":"Hour","titleX":123.5}},"y":{"field":"y","type":"quantitative","scale":{"domain":[-2,64.2]},"axis":{"values":[0,10,20,30,40,50,60],"labels":false,"ticks":false,"title":null}},"color":{"field":"Species","type":"nominal"}}},
{"width":121,"height":94,"transform":[{"filter":"datum.p==22"}],"mark":{"type":"line","strokeWidth":1.6,"point":{"filled":true,"size":11,"opacity":1}},"encoding":{"x":{"field":"x","type":"quantitative","scale":{"domain":[-3.1,62.9]},"axis":{"values":[-2.5,0,2.5,5,7.5,10,12.5,15,17.5,20,22.5,25,27.5,30,32.5,35,37.5,40,42.5,45,47.5,50,52.5,55,57.5,60,62.5],"labelExpr":"datum.value % 5 == 0 && datum.value >= 0 ? datum.label : ''","title":null}},"y":{"field":"y","type":"quantitative","scale":{"domain":[-2,64.2]},"axis":{"values":[0,10,20,30,40,50,60],"labels":false,"ticks":false,"title":null}},"color":{"field":"Species","type":"nominal"}}},
{"width":121,"height":94,"transform":[{"filter":"datum.p==23"}],"mark":{"type":"line","strokeWidth":1.6,"point":{"filled":true,"size":11,"opacity":1}},"encoding":{"x":{"field":"x","type":"quantitative","scale":{"domain":[-3.1,62.9]},"axis":{"values":[-2.5,0,2.5,5,7.5,10,12.5,15,17.5,20,22.5,25,27.5,30,32.5,35,37.5,40,42.5,45,47.5,50,52.5,55,57.5,60,62.5],"labelExpr":"datum.value % 5 == 0 && datum.value >= 0 ? datum.label : ''","title":null}},"y":{"field":"y","type":"quantitative","scale":{"domain":[-2,64.2]},"axis":{"values":[0,10,20,30,40,50,60],"labels":false,"ticks":false,"title":null}},"color":{"field":"Species","type":"nominal"}}},
{"width":11,"height":94,"data":{"values":[{"t":"mifish"}]},"mark":{"type":"text","angle":90,"fontWeight":"bold","fontSize":9,"color":"#1a1a1a"},"encoding":{"text":{"field":"t"}},"view":{"fill":"#d9d9d9","stroke":"#8c8c8c"}},
{"width":11,"height":94,"data":{"values":[{"t":"sup"}]},"mark":{"type":"text","angle":90,"fontWeight":"bold","fontSize":9,"color":"#1a1a1a"},"encoding":{"text":{"field":"t"}},"view":{"fill":"#d9d9d9","stroke":"#8c8c8c"}}
],
"config":{
"font":"Liberation Sans",
"view":{"stroke":"#a6a6a6","strokeWidth":1},
"range":{"category":["#E41A1C","#377EB8","#4DAF4A","#984EA3","#FF7F00","#FFFF33","#A65628","#F781BF","#999999","#66C2A5","#FC8D62","#8DA0CB","#E78AC3","#A6D854","#FFD92F"]},
"axis":{"domain":false,"grid":true,"gridColor":"#ebebeb","tickSize":2.5,"tickColor":"#333333","labelPadding":1.5,"labelFontSize":8,"labelColor":"#4d4d4d","labelOverlap":false,"labelFlush":false,"labelBound":false,"titleFontSize":10,"titleFontWeight":"bold","titleColor":"#000000","titlePadding":1},
"axisX":{"tickSize":2,"labelPadding":0.5,"titlePadding":0,"gridWidth":{"condition":{"test":"datum.value % 5 == 0","value":0.9},"value":0.45},"tickOpacity":{"condition":{"test":"datum.value % 5 == 0 && datum.value >= 0","value":1},"value":0}},
"axisY":{"gridWidth":{"condition":{"test":"datum.value % 20 == 0","value":0.9},"value":0.45},"tickOpacity":{"condition":{"test":"datum.value % 20 == 0","value":1},"value":0},"titlePadding":0},
"legend":{"orient":"none","legendX":531.5,"legendY":169.5,"padding":0,"titleFontSize":8,"titleFontWeight":"bold","titleColor":"#000000","titlePadding":4.5,"labelFontSize":7.2,"labelColor":"#1a1a1a","labelOffset":5,"symbolOffset":2.6,"symbolType":"M-1,0L1,0M0.2,0A0.2,0.2,0,1,1,-0.2,0A0.2,0.2,0,1,1,0.2,0","symbolSize":196,"symbolStrokeWidth":1.5,"rowPadding":4.8,"labelLimit":200}
}
}
